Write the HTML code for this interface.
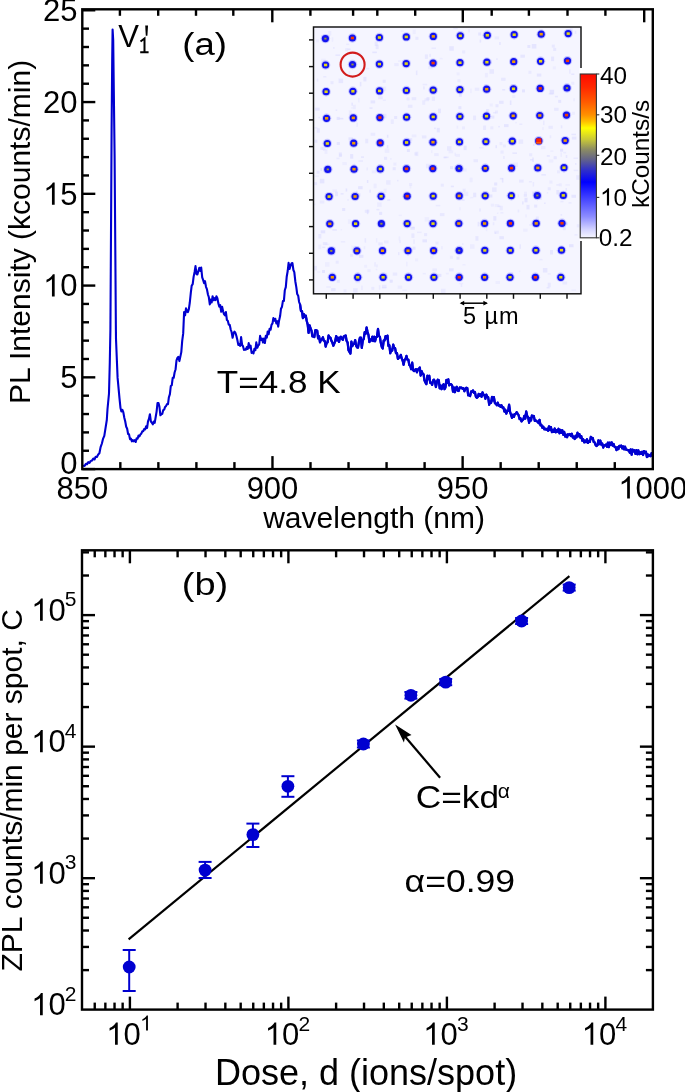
<!DOCTYPE html>
<html><head><meta charset="utf-8"><style>
html,body{margin:0;padding:0;background:#fff;width:685px;height:1092px;overflow:hidden}
svg{display:block;will-change:transform}
text{font-family:"Liberation Sans", sans-serif}
</style></head><body>
<svg width="685" height="1092" viewBox="0 0 685 1092">
<defs><radialGradient id="gy" cx="0.5" cy="0.5" r="0.5"><stop offset="0" stop-color="#e8e000"/><stop offset="0.32" stop-color="#e8e000"/><stop offset="0.5" stop-color="#1414f0"/><stop offset="0.78" stop-color="#2a2af2" stop-opacity="0.9"/><stop offset="1" stop-color="#8080ff" stop-opacity="0"/></radialGradient><radialGradient id="go" cx="0.5" cy="0.5" r="0.5"><stop offset="0" stop-color="#ff9a00"/><stop offset="0.32" stop-color="#ff9a00"/><stop offset="0.5" stop-color="#1414f0"/><stop offset="0.78" stop-color="#2a2af2" stop-opacity="0.9"/><stop offset="1" stop-color="#8080ff" stop-opacity="0"/></radialGradient><radialGradient id="gr" cx="0.5" cy="0.5" r="0.5"><stop offset="0" stop-color="#ff2a00"/><stop offset="0.32" stop-color="#ff2a00"/><stop offset="0.5" stop-color="#1414f0"/><stop offset="0.78" stop-color="#2a2af2" stop-opacity="0.9"/><stop offset="1" stop-color="#8080ff" stop-opacity="0"/></radialGradient><radialGradient id="gb" cx="0.5" cy="0.5" r="0.5"><stop offset="0" stop-color="#6a6a90"/><stop offset="0.32" stop-color="#6a6a90"/><stop offset="0.5" stop-color="#1414f0"/><stop offset="0.78" stop-color="#2a2af2" stop-opacity="0.9"/><stop offset="1" stop-color="#8080ff" stop-opacity="0"/></radialGradient><linearGradient id="cb" x1="0" y1="0" x2="0" y2="1"><stop offset="0" stop-color="#ff0a00"/><stop offset="0.08" stop-color="#ff2800"/><stop offset="0.17" stop-color="#ff5a00"/><stop offset="0.25" stop-color="#ff9000"/><stop offset="0.29" stop-color="#ffc000"/><stop offset="0.33" stop-color="#ffff00"/><stop offset="0.40" stop-color="#c8c838"/><stop offset="0.46" stop-color="#8c8c62"/><stop offset="0.52" stop-color="#646488"/><stop offset="0.58" stop-color="#3434c4"/><stop offset="0.66" stop-color="#0000ff"/><stop offset="0.77" stop-color="#4a4aff"/><stop offset="0.87" stop-color="#8c8cff"/><stop offset="0.95" stop-color="#d4d4ff"/><stop offset="1" stop-color="#f6f6ff"/></linearGradient></defs>
<rect width="685" height="1092" fill="#fff"/>
<!-- inset -->
<rect x="313.5" y="27.0" width="267.5" height="266.8" fill="#f5f5ff"/><rect x="477.6" y="221.9" width="1.5" height="4.5" fill="#d8d8ff" fill-opacity="0.52"/><rect x="379.1" y="40.6" width="3" height="1.5" fill="#d8d8ff" fill-opacity="0.38"/><rect x="542.3" y="127.1" width="1.5" height="3" fill="#d8d8ff" fill-opacity="0.25"/><rect x="370.6" y="100.4" width="4.5" height="3" fill="#d8d8ff" fill-opacity="0.52"/><rect x="332.5" y="189.4" width="4.5" height="3" fill="#d8d8ff" fill-opacity="0.30"/><rect x="569.7" y="28.4" width="3" height="3" fill="#d8d8ff" fill-opacity="0.56"/><rect x="389.7" y="279.7" width="3" height="3" fill="#d8d8ff" fill-opacity="0.58"/><rect x="495.5" y="281.0" width="4.5" height="3" fill="#d8d8ff" fill-opacity="0.26"/><rect x="422.8" y="272.9" width="3" height="1.5" fill="#d8d8ff" fill-opacity="0.37"/><rect x="528.9" y="181.0" width="3" height="1.5" fill="#d8d8ff" fill-opacity="0.36"/><rect x="529.2" y="153.3" width="3" height="3" fill="#d8d8ff" fill-opacity="0.42"/><rect x="499.2" y="42.0" width="1.5" height="3" fill="#d8d8ff" fill-opacity="0.55"/><rect x="318.3" y="234.0" width="3" height="4.5" fill="#d8d8ff" fill-opacity="0.45"/><rect x="315.9" y="39.3" width="3" height="3" fill="#d8d8ff" fill-opacity="0.29"/><rect x="378.3" y="242.4" width="4.5" height="3" fill="#d8d8ff" fill-opacity="0.43"/><rect x="548.7" y="92.9" width="4.5" height="1.5" fill="#d8d8ff" fill-opacity="0.46"/><rect x="519.3" y="123.5" width="3" height="1.5" fill="#d8d8ff" fill-opacity="0.40"/><rect x="571.3" y="81.8" width="3" height="3" fill="#d8d8ff" fill-opacity="0.37"/><rect x="557.0" y="170.3" width="3" height="3" fill="#d8d8ff" fill-opacity="0.36"/><rect x="524.0" y="191.7" width="3" height="4.5" fill="#d8d8ff" fill-opacity="0.31"/><rect x="326.3" y="286.3" width="4.5" height="1.5" fill="#d8d8ff" fill-opacity="0.33"/><rect x="470.0" y="244.2" width="4.5" height="4.5" fill="#d8d8ff" fill-opacity="0.30"/><rect x="571.5" y="194.8" width="4.5" height="3" fill="#d8d8ff" fill-opacity="0.54"/><rect x="347.9" y="219.3" width="3" height="4.5" fill="#d8d8ff" fill-opacity="0.29"/><rect x="428.0" y="66.2" width="4.5" height="3" fill="#d8d8ff" fill-opacity="0.30"/><rect x="556.4" y="190.0" width="3" height="4.5" fill="#d8d8ff" fill-opacity="0.59"/><rect x="495.0" y="110.5" width="3" height="3" fill="#d8d8ff" fill-opacity="0.41"/><rect x="551.1" y="56.6" width="3" height="4.5" fill="#d8d8ff" fill-opacity="0.55"/><rect x="361.0" y="156.3" width="3" height="1.5" fill="#d8d8ff" fill-opacity="0.53"/><rect x="517.7" y="209.5" width="1.5" height="3" fill="#d8d8ff" fill-opacity="0.38"/><rect x="499.1" y="100.8" width="4.5" height="3" fill="#d8d8ff" fill-opacity="0.52"/><rect x="495.5" y="104.2" width="3" height="3" fill="#d8d8ff" fill-opacity="0.45"/><rect x="316.6" y="170.7" width="3" height="3" fill="#d8d8ff" fill-opacity="0.49"/><rect x="435.5" y="241.6" width="3" height="3" fill="#d8d8ff" fill-opacity="0.35"/><rect x="404.6" y="273.4" width="4.5" height="3" fill="#d8d8ff" fill-opacity="0.57"/><rect x="358.9" y="254.8" width="4.5" height="3" fill="#d8d8ff" fill-opacity="0.58"/><rect x="450.0" y="166.1" width="3" height="3" fill="#d8d8ff" fill-opacity="0.54"/><rect x="560.5" y="152.4" width="1.5" height="4.5" fill="#d8d8ff" fill-opacity="0.31"/><rect x="519.1" y="179.6" width="4.5" height="3" fill="#d8d8ff" fill-opacity="0.47"/><rect x="517.6" y="194.4" width="1.5" height="3" fill="#d8d8ff" fill-opacity="0.31"/><rect x="429.7" y="197.9" width="3" height="3" fill="#d8d8ff" fill-opacity="0.47"/><rect x="324.5" y="150.9" width="3" height="3" fill="#d8d8ff" fill-opacity="0.27"/><rect x="348.7" y="110.4" width="3" height="4.5" fill="#d8d8ff" fill-opacity="0.32"/><rect x="322.9" y="149.3" width="4.5" height="1.5" fill="#d8d8ff" fill-opacity="0.46"/><rect x="376.2" y="264.4" width="1.5" height="3" fill="#d8d8ff" fill-opacity="0.39"/><rect x="386.9" y="134.8" width="1.5" height="3" fill="#d8d8ff" fill-opacity="0.59"/><rect x="458.4" y="106.2" width="3" height="3" fill="#d8d8ff" fill-opacity="0.58"/><rect x="390.8" y="119.4" width="3" height="4.5" fill="#d8d8ff" fill-opacity="0.39"/><rect x="462.1" y="168.5" width="4.5" height="3" fill="#d8d8ff" fill-opacity="0.30"/><rect x="414.4" y="152.4" width="3" height="3" fill="#d8d8ff" fill-opacity="0.46"/><rect x="406.0" y="261.8" width="1.5" height="4.5" fill="#d8d8ff" fill-opacity="0.29"/><rect x="462.6" y="188.7" width="3" height="3" fill="#d8d8ff" fill-opacity="0.47"/><rect x="548.4" y="125.8" width="4.5" height="3" fill="#d8d8ff" fill-opacity="0.42"/><rect x="439.9" y="213.1" width="4.5" height="3" fill="#d8d8ff" fill-opacity="0.46"/><rect x="382.0" y="284.8" width="4.5" height="3" fill="#d8d8ff" fill-opacity="0.40"/><rect x="397.6" y="285.7" width="4.5" height="3" fill="#d8d8ff" fill-opacity="0.30"/><rect x="319.8" y="200.5" width="4.5" height="3" fill="#d8d8ff" fill-opacity="0.35"/><rect x="519.5" y="244.3" width="1.5" height="4.5" fill="#d8d8ff" fill-opacity="0.44"/><rect x="385.6" y="272.8" width="1.5" height="3" fill="#d8d8ff" fill-opacity="0.42"/><rect x="535.9" y="216.6" width="3" height="3" fill="#d8d8ff" fill-opacity="0.42"/><rect x="575.0" y="163.2" width="1.5" height="1.5" fill="#d8d8ff" fill-opacity="0.52"/><rect x="392.7" y="167.2" width="3" height="3" fill="#d8d8ff" fill-opacity="0.51"/><rect x="320.5" y="118.9" width="3" height="1.5" fill="#d8d8ff" fill-opacity="0.25"/><rect x="459.3" y="207.2" width="1.5" height="3" fill="#d8d8ff" fill-opacity="0.26"/><rect x="518.6" y="139.4" width="4.5" height="4.5" fill="#d8d8ff" fill-opacity="0.42"/><rect x="493.3" y="216.1" width="3" height="4.5" fill="#d8d8ff" fill-opacity="0.54"/><rect x="330.9" y="246.8" width="4.5" height="3" fill="#d8d8ff" fill-opacity="0.48"/><rect x="438.0" y="108.7" width="3" height="4.5" fill="#d8d8ff" fill-opacity="0.49"/><rect x="547.7" y="282.7" width="3" height="4.5" fill="#d8d8ff" fill-opacity="0.46"/><rect x="527.4" y="45.0" width="3" height="3" fill="#d8d8ff" fill-opacity="0.54"/><rect x="522.1" y="201.4" width="1.5" height="3" fill="#d8d8ff" fill-opacity="0.50"/><rect x="571.4" y="289.4" width="4.5" height="1.5" fill="#d8d8ff" fill-opacity="0.29"/><rect x="345.7" y="188.5" width="1.5" height="3" fill="#d8d8ff" fill-opacity="0.60"/><rect x="499.5" y="142.1" width="3" height="3" fill="#d8d8ff" fill-opacity="0.39"/><rect x="356.0" y="190.6" width="1.5" height="1.5" fill="#d8d8ff" fill-opacity="0.48"/><rect x="509.9" y="100.5" width="1.5" height="4.5" fill="#d8d8ff" fill-opacity="0.56"/><rect x="348.9" y="140.4" width="3" height="4.5" fill="#d8d8ff" fill-opacity="0.42"/><rect x="560.8" y="125.3" width="1.5" height="3" fill="#d8d8ff" fill-opacity="0.49"/><rect x="353.3" y="192.9" width="3" height="3" fill="#d8d8ff" fill-opacity="0.34"/><rect x="458.9" y="93.8" width="3" height="3" fill="#d8d8ff" fill-opacity="0.53"/><rect x="541.0" y="146.1" width="4.5" height="3" fill="#d8d8ff" fill-opacity="0.30"/><rect x="318.4" y="116.8" width="1.5" height="1.5" fill="#d8d8ff" fill-opacity="0.55"/><rect x="447.0" y="146.2" width="4.5" height="4.5" fill="#d8d8ff" fill-opacity="0.42"/><rect x="398.7" y="236.3" width="1.5" height="4.5" fill="#d8d8ff" fill-opacity="0.27"/><rect x="353.2" y="277.2" width="3" height="1.5" fill="#d8d8ff" fill-opacity="0.28"/><rect x="553.7" y="156.2" width="3" height="3" fill="#d8d8ff" fill-opacity="0.50"/><rect x="412.5" y="246.7" width="3" height="3" fill="#d8d8ff" fill-opacity="0.58"/><rect x="499.4" y="236.2" width="4.5" height="3" fill="#d8d8ff" fill-opacity="0.50"/><rect x="407.9" y="104.8" width="4.5" height="3" fill="#d8d8ff" fill-opacity="0.43"/><rect x="469.7" y="177.7" width="3" height="4.5" fill="#d8d8ff" fill-opacity="0.27"/><rect x="323.3" y="76.0" width="3" height="1.5" fill="#d8d8ff" fill-opacity="0.42"/><rect x="560.4" y="200.8" width="3" height="1.5" fill="#d8d8ff" fill-opacity="0.40"/><rect x="392.7" y="272.6" width="4.5" height="3" fill="#d8d8ff" fill-opacity="0.41"/><rect x="339.8" y="67.6" width="3" height="1.5" fill="#d8d8ff" fill-opacity="0.38"/><rect x="415.1" y="258.4" width="3" height="3" fill="#d8d8ff" fill-opacity="0.29"/><rect x="529.2" y="224.2" width="3" height="1.5" fill="#d8d8ff" fill-opacity="0.42"/><rect x="322.0" y="270.0" width="3" height="3" fill="#d8d8ff" fill-opacity="0.58"/><rect x="494.7" y="204.1" width="4.5" height="3" fill="#d8d8ff" fill-opacity="0.29"/><rect x="489.7" y="103.5" width="3" height="3" fill="#d8d8ff" fill-opacity="0.26"/><rect x="501.9" y="178.0" width="1.5" height="4.5" fill="#d8d8ff" fill-opacity="0.57"/><rect x="499.7" y="205.8" width="3" height="4.5" fill="#d8d8ff" fill-opacity="0.38"/><rect x="331.1" y="288.1" width="4.5" height="3" fill="#d8d8ff" fill-opacity="0.52"/><rect x="359.8" y="81.9" width="1.5" height="4.5" fill="#d8d8ff" fill-opacity="0.50"/><rect x="384.8" y="148.4" width="4.5" height="4.5" fill="#d8d8ff" fill-opacity="0.31"/><rect x="322.3" y="246.6" width="3" height="1.5" fill="#d8d8ff" fill-opacity="0.50"/><rect x="375.9" y="238.1" width="1.5" height="4.5" fill="#d8d8ff" fill-opacity="0.27"/><rect x="377.7" y="40.3" width="4.5" height="1.5" fill="#d8d8ff" fill-opacity="0.27"/><rect x="533.1" y="144.2" width="1.5" height="1.5" fill="#d8d8ff" fill-opacity="0.58"/><rect x="364.8" y="209.8" width="4.5" height="3" fill="#d8d8ff" fill-opacity="0.44"/><rect x="335.7" y="109.5" width="1.5" height="1.5" fill="#d8d8ff" fill-opacity="0.44"/><rect x="556.3" y="184.2" width="3" height="1.5" fill="#d8d8ff" fill-opacity="0.40"/><rect x="407.7" y="138.2" width="4.5" height="3" fill="#d8d8ff" fill-opacity="0.50"/><rect x="554.1" y="107.8" width="4.5" height="3" fill="#d8d8ff" fill-opacity="0.44"/><rect x="350.1" y="154.0" width="3" height="4.5" fill="#d8d8ff" fill-opacity="0.36"/><rect x="347.7" y="48.5" width="3" height="1.5" fill="#d8d8ff" fill-opacity="0.53"/><rect x="568.5" y="202.1" width="3" height="1.5" fill="#d8d8ff" fill-opacity="0.42"/><rect x="379.1" y="211.9" width="3" height="3" fill="#d8d8ff" fill-opacity="0.56"/><rect x="332.4" y="229.2" width="4.5" height="1.5" fill="#d8d8ff" fill-opacity="0.56"/><rect x="485.9" y="226.7" width="1.5" height="4.5" fill="#d8d8ff" fill-opacity="0.30"/><rect x="494.7" y="232.3" width="1.5" height="1.5" fill="#d8d8ff" fill-opacity="0.50"/><rect x="384.0" y="240.4" width="4.5" height="3" fill="#d8d8ff" fill-opacity="0.36"/><rect x="394.2" y="63.1" width="4.5" height="3" fill="#d8d8ff" fill-opacity="0.35"/><rect x="330.2" y="227.7" width="1.5" height="1.5" fill="#d8d8ff" fill-opacity="0.29"/><rect x="569.0" y="244.2" width="4.5" height="3" fill="#d8d8ff" fill-opacity="0.58"/><rect x="474.8" y="87.7" width="4.5" height="3" fill="#d8d8ff" fill-opacity="0.38"/><rect x="400.6" y="30.3" width="3" height="1.5" fill="#d8d8ff" fill-opacity="0.34"/><rect x="473.2" y="192.7" width="3" height="4.5" fill="#d8d8ff" fill-opacity="0.52"/><rect x="428.0" y="139.9" width="3" height="3" fill="#d8d8ff" fill-opacity="0.41"/><rect x="373.7" y="183.7" width="3" height="4.5" fill="#d8d8ff" fill-opacity="0.27"/><rect x="489.5" y="69.2" width="4.5" height="4.5" fill="#d8d8ff" fill-opacity="0.46"/><rect x="340.8" y="241.0" width="4.5" height="1.5" fill="#d8d8ff" fill-opacity="0.32"/><rect x="313.8" y="265.9" width="3" height="4.5" fill="#d8d8ff" fill-opacity="0.50"/><rect x="406.9" y="149.0" width="3" height="3" fill="#d8d8ff" fill-opacity="0.54"/><rect x="393.4" y="162.6" width="3" height="3" fill="#d8d8ff" fill-opacity="0.37"/><rect x="378.9" y="285.2" width="1.5" height="4.5" fill="#d8d8ff" fill-opacity="0.39"/><rect x="351.2" y="245.6" width="4.5" height="4.5" fill="#d8d8ff" fill-opacity="0.26"/><rect x="358.2" y="52.9" width="3" height="3" fill="#d8d8ff" fill-opacity="0.53"/><rect x="512.5" y="152.4" width="4.5" height="1.5" fill="#d8d8ff" fill-opacity="0.53"/><rect x="412.7" y="29.6" width="3" height="4.5" fill="#d8d8ff" fill-opacity="0.26"/><rect x="492.1" y="187.4" width="4.5" height="4.5" fill="#d8d8ff" fill-opacity="0.44"/><rect x="495.5" y="145.2" width="1.5" height="3" fill="#d8d8ff" fill-opacity="0.53"/><rect x="409.1" y="183.0" width="3" height="3" fill="#d8d8ff" fill-opacity="0.35"/><rect x="320.7" y="230.3" width="4.5" height="3" fill="#d8d8ff" fill-opacity="0.59"/><rect x="317.3" y="271.2" width="3" height="1.5" fill="#d8d8ff" fill-opacity="0.26"/><rect x="336.8" y="279.8" width="3" height="3" fill="#d8d8ff" fill-opacity="0.49"/><rect x="534.4" y="221.1" width="3" height="4.5" fill="#d8d8ff" fill-opacity="0.43"/><rect x="549.6" y="89.8" width="4.5" height="4.5" fill="#d8d8ff" fill-opacity="0.59"/><rect x="490.3" y="126.3" width="3" height="3" fill="#d8d8ff" fill-opacity="0.39"/><rect x="342.2" y="208.0" width="3" height="3" fill="#d8d8ff" fill-opacity="0.56"/><rect x="369.5" y="107.3" width="3" height="1.5" fill="#d8d8ff" fill-opacity="0.56"/><rect x="357.6" y="193.3" width="3" height="3" fill="#d8d8ff" fill-opacity="0.48"/><rect x="463.7" y="191.6" width="4.5" height="4.5" fill="#d8d8ff" fill-opacity="0.33"/><rect x="440.8" y="183.7" width="3" height="3" fill="#d8d8ff" fill-opacity="0.40"/><rect x="335.7" y="260.7" width="3" height="3" fill="#d8d8ff" fill-opacity="0.40"/><rect x="352.8" y="104.7" width="3" height="4.5" fill="#d8d8ff" fill-opacity="0.32"/><rect x="470.2" y="196.9" width="3" height="1.5" fill="#d8d8ff" fill-opacity="0.27"/><rect x="441.2" y="246.3" width="1.5" height="3" fill="#d8d8ff" fill-opacity="0.32"/><rect x="436.8" y="127.9" width="3" height="4.5" fill="#d8d8ff" fill-opacity="0.54"/><rect x="313.9" y="203.7" width="1.5" height="1.5" fill="#d8d8ff" fill-opacity="0.37"/><rect x="410.4" y="226.8" width="4.5" height="3" fill="#d8d8ff" fill-opacity="0.54"/><rect x="525.3" y="214.4" width="1.5" height="3" fill="#d8d8ff" fill-opacity="0.29"/><rect x="330.5" y="81.2" width="3" height="3" fill="#d8d8ff" fill-opacity="0.41"/><rect x="492.8" y="222.2" width="1.5" height="3" fill="#d8d8ff" fill-opacity="0.39"/><rect x="456.7" y="125.6" width="1.5" height="3" fill="#d8d8ff" fill-opacity="0.30"/><rect x="314.4" y="127.1" width="3" height="1.5" fill="#d8d8ff" fill-opacity="0.42"/><rect x="560.6" y="214.2" width="1.5" height="1.5" fill="#d8d8ff" fill-opacity="0.53"/><rect x="576.8" y="224.3" width="3" height="3" fill="#d8d8ff" fill-opacity="0.38"/><rect x="390.1" y="158.1" width="1.5" height="1.5" fill="#d8d8ff" fill-opacity="0.35"/><rect x="402.3" y="249.9" width="4.5" height="1.5" fill="#d8d8ff" fill-opacity="0.33"/><rect x="573.3" y="98.2" width="1.5" height="3" fill="#d8d8ff" fill-opacity="0.34"/><rect x="338.8" y="152.5" width="3" height="4.5" fill="#d8d8ff" fill-opacity="0.55"/><rect x="378.1" y="145.9" width="3" height="1.5" fill="#d8d8ff" fill-opacity="0.25"/><rect x="515.3" y="121.9" width="1.5" height="1.5" fill="#d8d8ff" fill-opacity="0.34"/><rect x="434.2" y="127.6" width="1.5" height="1.5" fill="#d8d8ff" fill-opacity="0.59"/><rect x="364.6" y="238.2" width="1.5" height="4.5" fill="#d8d8ff" fill-opacity="0.43"/><rect x="565.4" y="184.2" width="4.5" height="1.5" fill="#d8d8ff" fill-opacity="0.27"/><rect x="417.0" y="231.6" width="4.5" height="1.5" fill="#d8d8ff" fill-opacity="0.33"/><rect x="424.6" y="217.1" width="4.5" height="4.5" fill="#d8d8ff" fill-opacity="0.26"/><rect x="528.4" y="70.8" width="3" height="3" fill="#d8d8ff" fill-opacity="0.36"/><rect x="363.8" y="246.2" width="1.5" height="3" fill="#d8d8ff" fill-opacity="0.33"/><rect x="424.5" y="98.2" width="4.5" height="3" fill="#d8d8ff" fill-opacity="0.35"/><rect x="489.1" y="59.4" width="3" height="4.5" fill="#d8d8ff" fill-opacity="0.28"/><rect x="494.6" y="36.4" width="4.5" height="3" fill="#d8d8ff" fill-opacity="0.32"/><rect x="318.4" y="244.7" width="3" height="4.5" fill="#d8d8ff" fill-opacity="0.30"/><rect x="375.8" y="268.8" width="1.5" height="1.5" fill="#d8d8ff" fill-opacity="0.31"/><rect x="426.5" y="97.1" width="3" height="3" fill="#d8d8ff" fill-opacity="0.52"/><rect x="353.5" y="163.2" width="1.5" height="3" fill="#d8d8ff" fill-opacity="0.29"/><rect x="483.1" y="125.5" width="3" height="4.5" fill="#d8d8ff" fill-opacity="0.44"/><rect x="430.3" y="255.8" width="3" height="3" fill="#d8d8ff" fill-opacity="0.26"/><rect x="316.8" y="128.2" width="3" height="4.5" fill="#d8d8ff" fill-opacity="0.48"/><rect x="328.2" y="31.0" width="3" height="4.5" fill="#d8d8ff" fill-opacity="0.33"/><rect x="502.2" y="89.0" width="3" height="1.5" fill="#d8d8ff" fill-opacity="0.53"/><rect x="376.4" y="208.9" width="3" height="1.5" fill="#d8d8ff" fill-opacity="0.45"/><rect x="429.3" y="53.9" width="1.5" height="3" fill="#d8d8ff" fill-opacity="0.45"/><rect x="386.1" y="180.2" width="4.5" height="4.5" fill="#d8d8ff" fill-opacity="0.36"/><rect x="357.4" y="271.9" width="1.5" height="4.5" fill="#d8d8ff" fill-opacity="0.27"/><rect x="369.4" y="189.7" width="1.5" height="3" fill="#d8d8ff" fill-opacity="0.54"/><rect x="411.8" y="134.4" width="4.5" height="3" fill="#d8d8ff" fill-opacity="0.27"/><rect x="314.5" y="175.4" width="4.5" height="1.5" fill="#d8d8ff" fill-opacity="0.27"/><rect x="336.7" y="116.9" width="3" height="3" fill="#d8d8ff" fill-opacity="0.59"/><rect x="382.9" y="99.5" width="3" height="1.5" fill="#d8d8ff" fill-opacity="0.34"/><rect x="532.0" y="191.4" width="4.5" height="3" fill="#d8d8ff" fill-opacity="0.47"/><rect x="378.2" y="96.2" width="4.5" height="3" fill="#d8d8ff" fill-opacity="0.46"/><rect x="462.5" y="264.0" width="3" height="1.5" fill="#d8d8ff" fill-opacity="0.25"/><rect x="324.9" y="243.6" width="4.5" height="1.5" fill="#d8d8ff" fill-opacity="0.26"/><rect x="421.9" y="135.4" width="4.5" height="3" fill="#d8d8ff" fill-opacity="0.44"/><rect x="496.9" y="212.5" width="1.5" height="1.5" fill="#d8d8ff" fill-opacity="0.27"/><rect x="434.8" y="197.5" width="1.5" height="3" fill="#d8d8ff" fill-opacity="0.29"/><rect x="512.3" y="95.0" width="3" height="3" fill="#d8d8ff" fill-opacity="0.25"/><rect x="513.3" y="162.5" width="4.5" height="4.5" fill="#d8d8ff" fill-opacity="0.38"/><rect x="486.4" y="274.9" width="3" height="3" fill="#d8d8ff" fill-opacity="0.41"/><rect x="353.1" y="288.2" width="4.5" height="4.5" fill="#d8d8ff" fill-opacity="0.47"/><rect x="484.9" y="72.9" width="3" height="4.5" fill="#d8d8ff" fill-opacity="0.31"/><rect x="445.8" y="272.8" width="3" height="1.5" fill="#d8d8ff" fill-opacity="0.30"/><rect x="384.1" y="156.8" width="3" height="3" fill="#d8d8ff" fill-opacity="0.48"/><rect x="424.1" y="233.1" width="3" height="3" fill="#d8d8ff" fill-opacity="0.47"/><rect x="365.2" y="138.8" width="3" height="4.5" fill="#d8d8ff" fill-opacity="0.47"/><rect x="482.3" y="278.3" width="1.5" height="1.5" fill="#d8d8ff" fill-opacity="0.37"/><rect x="340.6" y="193.1" width="3" height="1.5" fill="#d8d8ff" fill-opacity="0.52"/><rect x="456.6" y="72.3" width="3" height="3" fill="#d8d8ff" fill-opacity="0.28"/><rect x="539.5" y="258.9" width="3" height="1.5" fill="#d8d8ff" fill-opacity="0.35"/><rect x="402.3" y="289.5" width="4.5" height="1.5" fill="#d8d8ff" fill-opacity="0.27"/><rect x="331.7" y="37.3" width="1.5" height="4.5" fill="#d8d8ff" fill-opacity="0.29"/><rect x="423.2" y="86.4" width="1.5" height="3" fill="#d8d8ff" fill-opacity="0.48"/><rect x="493.1" y="112.0" width="3" height="1.5" fill="#d8d8ff" fill-opacity="0.41"/><rect x="340.6" y="229.0" width="1.5" height="1.5" fill="#d8d8ff" fill-opacity="0.28"/><rect x="573.6" y="169.6" width="4.5" height="1.5" fill="#d8d8ff" fill-opacity="0.35"/><rect x="458.7" y="282.7" width="4.5" height="1.5" fill="#d8d8ff" fill-opacity="0.32"/><rect x="449.1" y="268.3" width="4.5" height="3" fill="#d8d8ff" fill-opacity="0.57"/><rect x="399.3" y="240.1" width="1.5" height="3" fill="#d8d8ff" fill-opacity="0.36"/><rect x="539.1" y="195.5" width="3" height="4.5" fill="#d8d8ff" fill-opacity="0.44"/><rect x="523.8" y="194.0" width="3" height="3" fill="#d8d8ff" fill-opacity="0.31"/><rect x="479.1" y="147.0" width="4.5" height="1.5" fill="#d8d8ff" fill-opacity="0.30"/><rect x="366.9" y="209.6" width="1.5" height="4.5" fill="#d8d8ff" fill-opacity="0.60"/><rect x="348.6" y="71.1" width="1.5" height="4.5" fill="#d8d8ff" fill-opacity="0.34"/><rect x="435.8" y="204.9" width="4.5" height="1.5" fill="#d8d8ff" fill-opacity="0.35"/><rect x="546.7" y="192.0" width="1.5" height="1.5" fill="#d8d8ff" fill-opacity="0.32"/><rect x="319.8" y="178.8" width="4.5" height="4.5" fill="#d8d8ff" fill-opacity="0.56"/><rect x="450.9" y="185.7" width="3" height="1.5" fill="#d8d8ff" fill-opacity="0.56"/><rect x="348.5" y="137.4" width="4.5" height="3" fill="#d8d8ff" fill-opacity="0.59"/><rect x="347.3" y="199.2" width="1.5" height="1.5" fill="#d8d8ff" fill-opacity="0.42"/><rect x="355.6" y="280.2" width="4.5" height="3" fill="#d8d8ff" fill-opacity="0.40"/><rect x="534.2" y="204.6" width="3" height="3" fill="#d8d8ff" fill-opacity="0.50"/><rect x="475.4" y="236.2" width="3" height="4.5" fill="#d8d8ff" fill-opacity="0.48"/><rect x="455.5" y="153.9" width="4.5" height="3" fill="#d8d8ff" fill-opacity="0.27"/><rect x="454.5" y="152.8" width="1.5" height="3" fill="#d8d8ff" fill-opacity="0.31"/><rect x="358.5" y="160.3" width="4.5" height="1.5" fill="#d8d8ff" fill-opacity="0.38"/><rect x="483.4" y="87.2" width="3" height="1.5" fill="#d8d8ff" fill-opacity="0.32"/><rect x="375.7" y="44.6" width="3" height="4.5" fill="#d8d8ff" fill-opacity="0.45"/><rect x="372.3" y="51.6" width="4.5" height="1.5" fill="#d8d8ff" fill-opacity="0.56"/><rect x="453.3" y="27.7" width="4.5" height="1.5" fill="#d8d8ff" fill-opacity="0.41"/><rect x="363.4" y="76.9" width="3" height="4.5" fill="#d8d8ff" fill-opacity="0.56"/><rect x="550.3" y="150.4" width="3" height="1.5" fill="#d8d8ff" fill-opacity="0.26"/><rect x="523.1" y="228.7" width="4.5" height="3" fill="#d8d8ff" fill-opacity="0.26"/><rect x="546.6" y="287.0" width="3" height="1.5" fill="#d8d8ff" fill-opacity="0.49"/><rect x="366.5" y="167.4" width="1.5" height="3" fill="#d8d8ff" fill-opacity="0.33"/><rect x="314.4" y="139.7" width="3" height="3" fill="#d8d8ff" fill-opacity="0.51"/><rect x="415.9" y="70.6" width="1.5" height="4.5" fill="#d8d8ff" fill-opacity="0.49"/><rect x="370.7" y="132.8" width="4.5" height="3" fill="#d8d8ff" fill-opacity="0.39"/><rect x="320.4" y="146.8" width="3" height="3" fill="#d8d8ff" fill-opacity="0.52"/><rect x="542.9" y="268.0" width="4.5" height="4.5" fill="#d8d8ff" fill-opacity="0.51"/><rect x="366.9" y="180.0" width="1.5" height="3" fill="#d8d8ff" fill-opacity="0.54"/><rect x="569.1" y="69.3" width="1.5" height="4.5" fill="#d8d8ff" fill-opacity="0.38"/><rect x="351.4" y="102.7" width="1.5" height="3" fill="#d8d8ff" fill-opacity="0.50"/><rect x="563.3" y="222.2" width="4.5" height="3" fill="#d8d8ff" fill-opacity="0.50"/><rect x="546.8" y="155.2" width="3" height="1.5" fill="#d8d8ff" fill-opacity="0.60"/><rect x="504.0" y="124.1" width="4.5" height="3" fill="#d8d8ff" fill-opacity="0.53"/><rect x="432.4" y="268.4" width="4.5" height="3" fill="#d8d8ff" fill-opacity="0.39"/><rect x="460.7" y="284.0" width="1.5" height="3" fill="#d8d8ff" fill-opacity="0.42"/><rect x="342.3" y="162.1" width="4.5" height="3" fill="#d8d8ff" fill-opacity="0.28"/><rect x="486.1" y="109.5" width="1.5" height="3" fill="#d8d8ff" fill-opacity="0.39"/><rect x="398.0" y="252.1" width="1.5" height="3" fill="#d8d8ff" fill-opacity="0.47"/><rect x="518.9" y="270.6" width="1.5" height="1.5" fill="#d8d8ff" fill-opacity="0.26"/><rect x="448.7" y="150.4" width="4.5" height="3" fill="#d8d8ff" fill-opacity="0.30"/><rect x="386.8" y="145.1" width="1.5" height="3" fill="#d8d8ff" fill-opacity="0.56"/><rect x="532.6" y="182.0" width="1.5" height="4.5" fill="#d8d8ff" fill-opacity="0.35"/><rect x="338.8" y="117.9" width="4.5" height="1.5" fill="#d8d8ff" fill-opacity="0.60"/><rect x="543.0" y="120.6" width="1.5" height="4.5" fill="#d8d8ff" fill-opacity="0.36"/><rect x="532.3" y="157.5" width="1.5" height="4.5" fill="#d8d8ff" fill-opacity="0.50"/><rect x="558.8" y="183.3" width="3" height="3" fill="#d8d8ff" fill-opacity="0.34"/><rect x="530.1" y="159.0" width="3" height="1.5" fill="#d8d8ff" fill-opacity="0.55"/><rect x="463.6" y="145.6" width="3" height="4.5" fill="#d8d8ff" fill-opacity="0.58"/><rect x="346.2" y="43.6" width="3" height="1.5" fill="#d8d8ff" fill-opacity="0.36"/><rect x="409.7" y="185.5" width="1.5" height="3" fill="#d8d8ff" fill-opacity="0.25"/><rect x="351.2" y="107.2" width="1.5" height="1.5" fill="#d8d8ff" fill-opacity="0.27"/><rect x="335.0" y="191.7" width="3" height="4.5" fill="#d8d8ff" fill-opacity="0.48"/><rect x="322.5" y="147.0" width="3" height="3" fill="#d8d8ff" fill-opacity="0.43"/><rect x="576.2" y="175.2" width="4.5" height="4.5" fill="#d8d8ff" fill-opacity="0.47"/><rect x="536.8" y="73.6" width="4.5" height="3" fill="#d8d8ff" fill-opacity="0.55"/><rect x="336.8" y="142.0" width="3" height="3" fill="#d8d8ff" fill-opacity="0.57"/><rect x="403.1" y="191.9" width="1.5" height="4.5" fill="#d8d8ff" fill-opacity="0.39"/><rect x="431.9" y="96.5" width="3" height="4.5" fill="#d8d8ff" fill-opacity="0.38"/><rect x="361.2" y="285.6" width="1.5" height="4.5" fill="#d8d8ff" fill-opacity="0.36"/><rect x="364.8" y="67.9" width="4.5" height="1.5" fill="#d8d8ff" fill-opacity="0.35"/><rect x="322.9" y="242.1" width="4.5" height="3" fill="#d8d8ff" fill-opacity="0.49"/><rect x="544.1" y="202.5" width="1.5" height="1.5" fill="#d8d8ff" fill-opacity="0.52"/><rect x="394.2" y="116.0" width="3" height="3" fill="#d8d8ff" fill-opacity="0.55"/><rect x="316.8" y="78.6" width="1.5" height="3" fill="#d8d8ff" fill-opacity="0.42"/><rect x="367.5" y="269.1" width="3" height="3" fill="#d8d8ff" fill-opacity="0.33"/><rect x="433.7" y="35.5" width="1.5" height="3" fill="#d8d8ff" fill-opacity="0.29"/><rect x="496.2" y="58.4" width="1.5" height="1.5" fill="#d8d8ff" fill-opacity="0.52"/><rect x="549.4" y="180.6" width="3" height="3" fill="#d8d8ff" fill-opacity="0.34"/><rect x="358.1" y="97.9" width="1.5" height="4.5" fill="#d8d8ff" fill-opacity="0.31"/><rect x="503.2" y="156.0" width="1.5" height="3" fill="#d8d8ff" fill-opacity="0.41"/><rect x="374.7" y="41.5" width="3" height="4.5" fill="#d8d8ff" fill-opacity="0.48"/><rect x="339.1" y="154.3" width="3" height="1.5" fill="#d8d8ff" fill-opacity="0.41"/><rect x="345.2" y="48.2" width="3" height="3" fill="#d8d8ff" fill-opacity="0.38"/><rect x="565.7" y="155.0" width="1.5" height="3" fill="#d8d8ff" fill-opacity="0.43"/><rect x="406.6" y="97.4" width="3" height="3" fill="#d8d8ff" fill-opacity="0.41"/><rect x="494.2" y="182.5" width="3" height="3" fill="#d8d8ff" fill-opacity="0.57"/><rect x="462.2" y="50.4" width="3" height="3" fill="#d8d8ff" fill-opacity="0.38"/><rect x="483.9" y="84.2" width="3" height="3" fill="#d8d8ff" fill-opacity="0.52"/><rect x="358.1" y="186.2" width="4.5" height="3" fill="#d8d8ff" fill-opacity="0.56"/><rect x="479.3" y="208.5" width="1.5" height="3" fill="#d8d8ff" fill-opacity="0.46"/><rect x="524.5" y="197.8" width="3" height="4.5" fill="#d8d8ff" fill-opacity="0.58"/><rect x="574.8" y="30.8" width="1.5" height="3" fill="#d8d8ff" fill-opacity="0.46"/><rect x="486.2" y="109.0" width="3" height="4.5" fill="#d8d8ff" fill-opacity="0.55"/><rect x="473.1" y="115.6" width="3" height="4.5" fill="#d8d8ff" fill-opacity="0.44"/><rect x="479.8" y="221.9" width="1.5" height="4.5" fill="#d8d8ff" fill-opacity="0.31"/><rect x="457.4" y="79.2" width="3" height="3" fill="#d8d8ff" fill-opacity="0.39"/><rect x="553.2" y="47.9" width="3" height="3" fill="#d8d8ff" fill-opacity="0.49"/><rect x="478.2" y="32.5" width="3" height="3" fill="#d8d8ff" fill-opacity="0.53"/><rect x="413.3" y="239.4" width="1.5" height="4.5" fill="#d8d8ff" fill-opacity="0.39"/><rect x="571.5" y="133.7" width="4.5" height="1.5" fill="#d8d8ff" fill-opacity="0.52"/><rect x="565.5" y="188.0" width="1.5" height="3" fill="#d8d8ff" fill-opacity="0.43"/><rect x="488.0" y="114.0" width="3" height="3" fill="#d8d8ff" fill-opacity="0.40"/><rect x="526.5" y="204.9" width="3" height="4.5" fill="#d8d8ff" fill-opacity="0.50"/><rect x="500.4" y="212.1" width="3" height="1.5" fill="#d8d8ff" fill-opacity="0.35"/><rect x="571.9" y="136.6" width="4.5" height="3" fill="#d8d8ff" fill-opacity="0.52"/><rect x="436.9" y="273.9" width="4.5" height="3" fill="#d8d8ff" fill-opacity="0.60"/><rect x="398.8" y="214.6" width="3" height="1.5" fill="#d8d8ff" fill-opacity="0.29"/><rect x="431.0" y="150.1" width="1.5" height="3" fill="#d8d8ff" fill-opacity="0.25"/><rect x="497.4" y="205.6" width="3" height="1.5" fill="#d8d8ff" fill-opacity="0.53"/><rect x="531.8" y="44.0" width="4.5" height="4.5" fill="#d8d8ff" fill-opacity="0.57"/><rect x="562.8" y="225.7" width="3" height="4.5" fill="#d8d8ff" fill-opacity="0.44"/><rect x="489.4" y="194.5" width="3" height="3" fill="#d8d8ff" fill-opacity="0.59"/><rect x="443.5" y="156.7" width="3" height="1.5" fill="#d8d8ff" fill-opacity="0.52"/><rect x="468.3" y="29.3" width="1.5" height="3" fill="#d8d8ff" fill-opacity="0.32"/><rect x="558.2" y="99.9" width="3" height="3" fill="#d8d8ff" fill-opacity="0.53"/><rect x="377.1" y="202.4" width="4.5" height="4.5" fill="#d8d8ff" fill-opacity="0.33"/><rect x="422.7" y="83.8" width="4.5" height="1.5" fill="#d8d8ff" fill-opacity="0.36"/><rect x="522.0" y="89.4" width="3" height="3" fill="#d8d8ff" fill-opacity="0.58"/><rect x="406.9" y="92.7" width="3" height="1.5" fill="#d8d8ff" fill-opacity="0.47"/><rect x="439.6" y="57.9" width="3" height="1.5" fill="#d8d8ff" fill-opacity="0.30"/><rect x="520.4" y="54.7" width="4.5" height="3" fill="#d8d8ff" fill-opacity="0.52"/><rect x="456.5" y="256.6" width="3" height="3" fill="#d8d8ff" fill-opacity="0.58"/><rect x="325.0" y="262.3" width="4.5" height="4.5" fill="#d8d8ff" fill-opacity="0.25"/><rect x="381.9" y="286.9" width="4.5" height="1.5" fill="#d8d8ff" fill-opacity="0.53"/><rect x="315.2" y="107.7" width="4.5" height="3" fill="#d8d8ff" fill-opacity="0.57"/><rect x="552.8" y="66.3" width="3" height="3" fill="#d8d8ff" fill-opacity="0.28"/><rect x="425.9" y="163.8" width="4.5" height="4.5" fill="#d8d8ff" fill-opacity="0.36"/><rect x="563.2" y="151.9" width="3" height="1.5" fill="#d8d8ff" fill-opacity="0.34"/><rect x="424.9" y="54.4" width="3" height="4.5" fill="#d8d8ff" fill-opacity="0.43"/><rect x="490.9" y="203.6" width="3" height="3" fill="#d8d8ff" fill-opacity="0.30"/><rect x="321.3" y="58.8" width="4.5" height="4.5" fill="#d8d8ff" fill-opacity="0.25"/><rect x="491.3" y="115.6" width="3" height="3" fill="#d8d8ff" fill-opacity="0.57"/><rect x="381.7" y="86.6" width="4.5" height="4.5" fill="#d8d8ff" fill-opacity="0.34"/><rect x="383.7" y="188.6" width="3" height="4.5" fill="#d8d8ff" fill-opacity="0.27"/><rect x="547.7" y="273.1" width="3" height="1.5" fill="#d8d8ff" fill-opacity="0.33"/><rect x="449.9" y="255.8" width="3" height="3" fill="#d8d8ff" fill-opacity="0.37"/><rect x="494.3" y="230.7" width="4.5" height="3" fill="#d8d8ff" fill-opacity="0.33"/><rect x="562.6" y="281.5" width="4.5" height="3" fill="#d8d8ff" fill-opacity="0.41"/><rect x="356.4" y="122.4" width="1.5" height="4.5" fill="#d8d8ff" fill-opacity="0.35"/><rect x="571.9" y="111.8" width="3" height="3" fill="#d8d8ff" fill-opacity="0.28"/><rect x="387.2" y="199.3" width="3" height="1.5" fill="#d8d8ff" fill-opacity="0.51"/><rect x="411.4" y="233.4" width="3" height="4.5" fill="#d8d8ff" fill-opacity="0.43"/><rect x="411.7" y="97.2" width="4.5" height="3" fill="#d8d8ff" fill-opacity="0.46"/><rect x="511.6" y="272.1" width="1.5" height="3" fill="#d8d8ff" fill-opacity="0.56"/><rect x="338.6" y="78.6" width="4.5" height="4.5" fill="#d8d8ff" fill-opacity="0.49"/><rect x="343.5" y="289.3" width="3" height="3" fill="#d8d8ff" fill-opacity="0.39"/><rect x="462.0" y="126.4" width="3" height="3" fill="#d8d8ff" fill-opacity="0.37"/><rect x="422.2" y="100.3" width="3" height="4.5" fill="#d8d8ff" fill-opacity="0.36"/><rect x="374.3" y="262.1" width="1.5" height="4.5" fill="#d8d8ff" fill-opacity="0.36"/><rect x="336.5" y="157.7" width="3" height="1.5" fill="#d8d8ff" fill-opacity="0.36"/><rect x="473.5" y="159.2" width="4.5" height="3" fill="#d8d8ff" fill-opacity="0.42"/><rect x="563.0" y="142.3" width="3" height="1.5" fill="#d8d8ff" fill-opacity="0.53"/><rect x="501.1" y="77.8" width="4.5" height="3" fill="#d8d8ff" fill-opacity="0.43"/><rect x="499.9" y="177.9" width="3" height="1.5" fill="#d8d8ff" fill-opacity="0.55"/><rect x="541.4" y="174.1" width="4.5" height="1.5" fill="#d8d8ff" fill-opacity="0.50"/><rect x="371.3" y="286.9" width="3" height="3" fill="#d8d8ff" fill-opacity="0.35"/><rect x="547.7" y="187.3" width="3" height="3" fill="#d8d8ff" fill-opacity="0.46"/><rect x="441.0" y="288.8" width="4.5" height="4.5" fill="#d8d8ff" fill-opacity="0.36"/><rect x="383.4" y="113.8" width="3" height="4.5" fill="#d8d8ff" fill-opacity="0.41"/><rect x="461.6" y="199.3" width="3" height="1.5" fill="#d8d8ff" fill-opacity="0.53"/><rect x="335.5" y="54.4" width="4.5" height="1.5" fill="#d8d8ff" fill-opacity="0.55"/><rect x="573.5" y="157.5" width="4.5" height="1.5" fill="#d8d8ff" fill-opacity="0.41"/><rect x="411.4" y="226.8" width="3" height="1.5" fill="#d8d8ff" fill-opacity="0.55"/><rect x="574.5" y="234.1" width="3" height="1.5" fill="#d8d8ff" fill-opacity="0.42"/><rect x="551.8" y="44.6" width="3" height="3" fill="#d8d8ff" fill-opacity="0.47"/><rect x="470.2" y="88.6" width="1.5" height="4.5" fill="#d8d8ff" fill-opacity="0.29"/><rect x="431.5" y="47.5" width="4.5" height="1.5" fill="#d8d8ff" fill-opacity="0.35"/><rect x="314.1" y="182.1" width="3" height="3" fill="#d8d8ff" fill-opacity="0.45"/><rect x="548.7" y="159.5" width="4.5" height="3" fill="#d8d8ff" fill-opacity="0.29"/><rect x="350.3" y="154.3" width="3" height="4.5" fill="#d8d8ff" fill-opacity="0.26"/><rect x="350.1" y="253.8" width="3" height="3" fill="#d8d8ff" fill-opacity="0.49"/><rect x="415.4" y="36.8" width="3" height="3" fill="#d8d8ff" fill-opacity="0.46"/><rect x="434.2" y="153.1" width="4.5" height="3" fill="#d8d8ff" fill-opacity="0.36"/><rect x="406.0" y="224.4" width="4.5" height="1.5" fill="#d8d8ff" fill-opacity="0.56"/><rect x="320.4" y="168.0" width="1.5" height="3" fill="#d8d8ff" fill-opacity="0.48"/><rect x="502.9" y="144.4" width="3" height="3" fill="#d8d8ff" fill-opacity="0.36"/><rect x="549.7" y="135.2" width="1.5" height="3" fill="#d8d8ff" fill-opacity="0.35"/><rect x="333.1" y="47.2" width="1.5" height="1.5" fill="#d8d8ff" fill-opacity="0.49"/><rect x="449.3" y="46.2" width="4.5" height="4.5" fill="#d8d8ff" fill-opacity="0.51"/><rect x="404.6" y="90.7" width="3" height="3" fill="#d8d8ff" fill-opacity="0.59"/><rect x="364.1" y="264.8" width="3" height="3" fill="#d8d8ff" fill-opacity="0.26"/><rect x="422.5" y="239.3" width="4.5" height="3" fill="#d8d8ff" fill-opacity="0.56"/><rect x="398.1" y="60.3" width="3" height="1.5" fill="#d8d8ff" fill-opacity="0.32"/><rect x="479.6" y="39.6" width="1.5" height="3" fill="#d8d8ff" fill-opacity="0.52"/><rect x="444.1" y="156.6" width="4.5" height="1.5" fill="#d8d8ff" fill-opacity="0.49"/><rect x="397.0" y="179.9" width="1.5" height="1.5" fill="#d8d8ff" fill-opacity="0.47"/><rect x="462.0" y="243.3" width="1.5" height="1.5" fill="#d8d8ff" fill-opacity="0.42"/><rect x="550.0" y="250.0" width="3" height="4.5" fill="#d8d8ff" fill-opacity="0.55"/><rect x="498.3" y="125.9" width="1.5" height="1.5" fill="#d8d8ff" fill-opacity="0.52"/><rect x="500.6" y="150.6" width="3" height="3" fill="#d8d8ff" fill-opacity="0.38"/><rect x="560.1" y="148.7" width="3" height="3" fill="#d8d8ff" fill-opacity="0.60"/><rect x="571.3" y="73.5" width="3" height="1.5" fill="#d8d8ff" fill-opacity="0.51"/><rect x="415.4" y="151.6" width="3" height="4.5" fill="#d8d8ff" fill-opacity="0.32"/><rect x="371.8" y="170.4" width="4.5" height="3" fill="#d8d8ff" fill-opacity="0.30"/><rect x="554.9" y="95.8" width="3" height="1.5" fill="#d8d8ff" fill-opacity="0.49"/><rect x="382.7" y="79.8" width="3" height="3" fill="#d8d8ff" fill-opacity="0.52"/>
<g><circle cx="325.4" cy="38.6" r="4.7" fill="#8c8cff" fill-opacity="0.45"/><circle cx="325.4" cy="38.6" r="3.6" fill="#1212f0"/><rect x="324.3" y="37.7" width="2.2" height="1.8" fill="#a09a30"/><circle cx="352.4" cy="38.0" r="4.7" fill="#8c8cff" fill-opacity="0.45"/><circle cx="352.4" cy="38.0" r="3.6" fill="#1212f0"/><rect x="350.8" y="36.7" width="3.2" height="2.6" fill="#f23a00"/><circle cx="379.4" cy="37.5" r="4.7" fill="#8c8cff" fill-opacity="0.45"/><circle cx="379.4" cy="37.5" r="3.6" fill="#1212f0"/><rect x="377.8" y="36.2" width="3.2" height="2.6" fill="#e6da12"/><circle cx="406.3" cy="36.9" r="4.7" fill="#8c8cff" fill-opacity="0.45"/><circle cx="406.3" cy="36.9" r="3.6" fill="#1212f0"/><rect x="404.7" y="35.6" width="3.2" height="2.6" fill="#e6da12"/><circle cx="433.3" cy="36.4" r="4.7" fill="#8c8cff" fill-opacity="0.45"/><circle cx="433.3" cy="36.4" r="3.6" fill="#1212f0"/><rect x="431.7" y="35.1" width="3.2" height="2.6" fill="#f29c00"/><circle cx="460.3" cy="35.8" r="4.7" fill="#8c8cff" fill-opacity="0.45"/><circle cx="460.3" cy="35.8" r="3.6" fill="#1212f0"/><rect x="458.7" y="34.5" width="3.2" height="2.6" fill="#e6da12"/><circle cx="487.3" cy="35.3" r="4.7" fill="#8c8cff" fill-opacity="0.45"/><circle cx="487.3" cy="35.3" r="3.6" fill="#1212f0"/><rect x="485.7" y="34.0" width="3.2" height="2.6" fill="#e6da12"/><circle cx="514.2" cy="34.7" r="4.7" fill="#8c8cff" fill-opacity="0.45"/><circle cx="514.2" cy="34.7" r="3.6" fill="#1212f0"/><rect x="512.6" y="33.4" width="3.2" height="2.6" fill="#e6da12"/><circle cx="541.2" cy="34.2" r="4.7" fill="#8c8cff" fill-opacity="0.45"/><circle cx="541.2" cy="34.2" r="3.6" fill="#1212f0"/><rect x="539.6" y="32.9" width="3.2" height="2.6" fill="#f29c00"/><circle cx="568.2" cy="33.6" r="4.7" fill="#8c8cff" fill-opacity="0.45"/><circle cx="568.2" cy="33.6" r="3.6" fill="#1212f0"/><rect x="566.6" y="32.3" width="3.2" height="2.6" fill="#e6da12"/><circle cx="325.6" cy="65.0" r="4.7" fill="#8c8cff" fill-opacity="0.45"/><circle cx="325.6" cy="65.0" r="3.6" fill="#1212f0"/><rect x="324.0" y="63.7" width="3.2" height="2.6" fill="#e6da12"/><circle cx="352.5" cy="64.5" r="4.7" fill="#8c8cff" fill-opacity="0.45"/><circle cx="352.5" cy="64.5" r="3.6" fill="#1212f0"/><rect x="351.4" y="63.6" width="2.2" height="1.8" fill="#a09a30"/><circle cx="379.4" cy="64.1" r="4.7" fill="#8c8cff" fill-opacity="0.45"/><circle cx="379.4" cy="64.1" r="3.6" fill="#1212f0"/><rect x="377.8" y="62.8" width="3.2" height="2.6" fill="#e6da12"/><circle cx="406.2" cy="63.6" r="4.7" fill="#8c8cff" fill-opacity="0.45"/><circle cx="406.2" cy="63.6" r="3.6" fill="#1212f0"/><rect x="404.6" y="62.3" width="3.2" height="2.6" fill="#e6da12"/><circle cx="433.1" cy="63.1" r="4.7" fill="#8c8cff" fill-opacity="0.45"/><circle cx="433.1" cy="63.1" r="3.6" fill="#1212f0"/><rect x="431.5" y="61.8" width="3.2" height="2.6" fill="#f23a00"/><circle cx="460.0" cy="62.7" r="4.7" fill="#8c8cff" fill-opacity="0.45"/><circle cx="460.0" cy="62.7" r="3.6" fill="#1212f0"/><rect x="458.4" y="61.4" width="3.2" height="2.6" fill="#e6da12"/><circle cx="486.9" cy="62.2" r="4.7" fill="#8c8cff" fill-opacity="0.45"/><circle cx="486.9" cy="62.2" r="3.6" fill="#1212f0"/><rect x="485.3" y="60.9" width="3.2" height="2.6" fill="#e6da12"/><circle cx="513.7" cy="61.7" r="4.7" fill="#8c8cff" fill-opacity="0.45"/><circle cx="513.7" cy="61.7" r="3.6" fill="#1212f0"/><rect x="512.1" y="60.4" width="3.2" height="2.6" fill="#f29c00"/><circle cx="540.6" cy="61.3" r="4.7" fill="#8c8cff" fill-opacity="0.45"/><circle cx="540.6" cy="61.3" r="3.6" fill="#1212f0"/><rect x="539.0" y="60.0" width="3.2" height="2.6" fill="#e6da12"/><circle cx="567.5" cy="60.8" r="4.7" fill="#8c8cff" fill-opacity="0.45"/><circle cx="567.5" cy="60.8" r="3.6" fill="#1212f0"/><rect x="565.9" y="59.5" width="3.2" height="2.6" fill="#f23a00"/><circle cx="326.1" cy="91.7" r="4.7" fill="#8c8cff" fill-opacity="0.45"/><circle cx="326.1" cy="91.7" r="3.6" fill="#1212f0"/><rect x="324.5" y="90.4" width="3.2" height="2.6" fill="#e6da12"/><circle cx="352.9" cy="91.3" r="4.7" fill="#8c8cff" fill-opacity="0.45"/><circle cx="352.9" cy="91.3" r="3.6" fill="#1212f0"/><rect x="351.3" y="90.0" width="3.2" height="2.6" fill="#e6da12"/><circle cx="379.6" cy="90.9" r="4.7" fill="#8c8cff" fill-opacity="0.45"/><circle cx="379.6" cy="90.9" r="3.6" fill="#1212f0"/><rect x="378.0" y="89.6" width="3.2" height="2.6" fill="#e6da12"/><circle cx="406.4" cy="90.5" r="4.7" fill="#8c8cff" fill-opacity="0.45"/><circle cx="406.4" cy="90.5" r="3.6" fill="#1212f0"/><rect x="404.8" y="89.2" width="3.2" height="2.6" fill="#e6da12"/><circle cx="433.2" cy="90.1" r="4.7" fill="#8c8cff" fill-opacity="0.45"/><circle cx="433.2" cy="90.1" r="3.6" fill="#1212f0"/><rect x="431.6" y="88.8" width="3.2" height="2.6" fill="#e6da12"/><circle cx="459.9" cy="89.6" r="4.7" fill="#8c8cff" fill-opacity="0.45"/><circle cx="459.9" cy="89.6" r="3.6" fill="#1212f0"/><rect x="458.3" y="88.3" width="3.2" height="2.6" fill="#e6da12"/><circle cx="486.7" cy="89.2" r="4.7" fill="#8c8cff" fill-opacity="0.45"/><circle cx="486.7" cy="89.2" r="3.6" fill="#1212f0"/><rect x="485.1" y="87.9" width="3.2" height="2.6" fill="#f29c00"/><circle cx="513.5" cy="88.8" r="4.7" fill="#8c8cff" fill-opacity="0.45"/><circle cx="513.5" cy="88.8" r="3.6" fill="#1212f0"/><rect x="511.9" y="87.5" width="3.2" height="2.6" fill="#e6da12"/><circle cx="540.2" cy="88.4" r="4.7" fill="#8c8cff" fill-opacity="0.45"/><circle cx="540.2" cy="88.4" r="3.6" fill="#1212f0"/><rect x="538.6" y="87.1" width="3.2" height="2.6" fill="#f23a00"/><circle cx="567.0" cy="88.0" r="4.7" fill="#8c8cff" fill-opacity="0.45"/><circle cx="567.0" cy="88.0" r="3.6" fill="#1212f0"/><rect x="565.9" y="87.1" width="2.2" height="1.8" fill="#a09a30"/><circle cx="326.6" cy="118.3" r="4.7" fill="#8c8cff" fill-opacity="0.45"/><circle cx="326.6" cy="118.3" r="3.6" fill="#1212f0"/><rect x="325.0" y="117.0" width="3.2" height="2.6" fill="#f29c00"/><circle cx="353.3" cy="117.9" r="4.7" fill="#8c8cff" fill-opacity="0.45"/><circle cx="353.3" cy="117.9" r="3.6" fill="#1212f0"/><rect x="351.7" y="116.6" width="3.2" height="2.6" fill="#f29c00"/><circle cx="379.9" cy="117.6" r="4.7" fill="#8c8cff" fill-opacity="0.45"/><circle cx="379.9" cy="117.6" r="3.6" fill="#1212f0"/><rect x="378.3" y="116.3" width="3.2" height="2.6" fill="#f23a00"/><circle cx="406.6" cy="117.2" r="4.7" fill="#8c8cff" fill-opacity="0.45"/><circle cx="406.6" cy="117.2" r="3.6" fill="#1212f0"/><rect x="405.0" y="115.9" width="3.2" height="2.6" fill="#e6da12"/><circle cx="433.2" cy="116.9" r="4.7" fill="#8c8cff" fill-opacity="0.45"/><circle cx="433.2" cy="116.9" r="3.6" fill="#1212f0"/><rect x="431.6" y="115.6" width="3.2" height="2.6" fill="#e6da12"/><circle cx="459.9" cy="116.5" r="4.7" fill="#8c8cff" fill-opacity="0.45"/><circle cx="459.9" cy="116.5" r="3.6" fill="#1212f0"/><rect x="458.3" y="115.2" width="3.2" height="2.6" fill="#e6da12"/><circle cx="486.5" cy="116.2" r="4.7" fill="#8c8cff" fill-opacity="0.45"/><circle cx="486.5" cy="116.2" r="3.6" fill="#1212f0"/><rect x="484.9" y="114.9" width="3.2" height="2.6" fill="#e6da12"/><circle cx="513.2" cy="115.8" r="4.7" fill="#8c8cff" fill-opacity="0.45"/><circle cx="513.2" cy="115.8" r="3.6" fill="#1212f0"/><rect x="511.6" y="114.5" width="3.2" height="2.6" fill="#f29c00"/><circle cx="539.8" cy="115.5" r="4.7" fill="#8c8cff" fill-opacity="0.45"/><circle cx="539.8" cy="115.5" r="3.6" fill="#1212f0"/><rect x="538.2" y="114.2" width="3.2" height="2.6" fill="#f29c00"/><circle cx="566.5" cy="115.1" r="4.7" fill="#8c8cff" fill-opacity="0.45"/><circle cx="566.5" cy="115.1" r="3.6" fill="#1212f0"/><rect x="564.9" y="113.8" width="3.2" height="2.6" fill="#f23a00"/><circle cx="327.3" cy="143.5" r="4.7" fill="#8c8cff" fill-opacity="0.45"/><circle cx="327.3" cy="143.5" r="3.6" fill="#1212f0"/><rect x="325.7" y="142.2" width="3.2" height="2.6" fill="#e6da12"/><circle cx="353.7" cy="143.2" r="4.7" fill="#8c8cff" fill-opacity="0.45"/><circle cx="353.7" cy="143.2" r="3.6" fill="#1212f0"/><rect x="352.1" y="141.9" width="3.2" height="2.6" fill="#f29c00"/><circle cx="380.2" cy="142.9" r="4.7" fill="#8c8cff" fill-opacity="0.45"/><circle cx="380.2" cy="142.9" r="3.6" fill="#1212f0"/><rect x="378.6" y="141.6" width="3.2" height="2.6" fill="#f23a00"/><circle cx="406.6" cy="142.5" r="4.7" fill="#8c8cff" fill-opacity="0.45"/><circle cx="406.6" cy="142.5" r="3.6" fill="#1212f0"/><rect x="405.0" y="141.2" width="3.2" height="2.6" fill="#e6da12"/><circle cx="433.0" cy="142.2" r="4.7" fill="#8c8cff" fill-opacity="0.45"/><circle cx="433.0" cy="142.2" r="3.6" fill="#1212f0"/><rect x="431.4" y="140.9" width="3.2" height="2.6" fill="#f29c00"/><circle cx="459.5" cy="141.9" r="4.7" fill="#8c8cff" fill-opacity="0.45"/><circle cx="459.5" cy="141.9" r="3.6" fill="#1212f0"/><rect x="457.9" y="140.6" width="3.2" height="2.6" fill="#e6da12"/><circle cx="485.9" cy="141.6" r="4.7" fill="#8c8cff" fill-opacity="0.45"/><circle cx="485.9" cy="141.6" r="3.6" fill="#1212f0"/><rect x="484.3" y="140.3" width="3.2" height="2.6" fill="#e6da12"/><circle cx="512.3" cy="141.2" r="4.7" fill="#8c8cff" fill-opacity="0.45"/><circle cx="512.3" cy="141.2" r="3.6" fill="#1212f0"/><rect x="510.7" y="139.9" width="3.2" height="2.6" fill="#e6da12"/><circle cx="538.8" cy="140.9" r="4.8" fill="#8c8cff" fill-opacity="0.45"/><circle cx="538.8" cy="140.9" r="3.7" fill="#1212f0"/><rect x="536.2" y="138.3" width="5.2" height="5.2" fill="#ff2000"/><rect x="536.2" y="142.3" width="5.2" height="1.2" fill="#ff7000"/><circle cx="565.2" cy="140.6" r="4.7" fill="#8c8cff" fill-opacity="0.45"/><circle cx="565.2" cy="140.6" r="3.6" fill="#1212f0"/><rect x="563.6" y="139.3" width="3.2" height="2.6" fill="#f29c00"/><circle cx="327.8" cy="169.4" r="4.7" fill="#8c8cff" fill-opacity="0.45"/><circle cx="327.8" cy="169.4" r="3.6" fill="#1212f0"/><rect x="326.7" y="168.5" width="2.2" height="1.8" fill="#a09a30"/><circle cx="354.0" cy="169.2" r="4.7" fill="#8c8cff" fill-opacity="0.45"/><circle cx="354.0" cy="169.2" r="3.6" fill="#1212f0"/><rect x="352.4" y="167.9" width="3.2" height="2.6" fill="#f29c00"/><circle cx="380.3" cy="169.0" r="4.7" fill="#8c8cff" fill-opacity="0.45"/><circle cx="380.3" cy="169.0" r="3.6" fill="#1212f0"/><rect x="378.7" y="167.7" width="3.2" height="2.6" fill="#e6da12"/><circle cx="406.5" cy="168.8" r="4.7" fill="#8c8cff" fill-opacity="0.45"/><circle cx="406.5" cy="168.8" r="3.6" fill="#1212f0"/><rect x="404.9" y="167.5" width="3.2" height="2.6" fill="#f23a00"/><circle cx="432.8" cy="168.6" r="4.7" fill="#8c8cff" fill-opacity="0.45"/><circle cx="432.8" cy="168.6" r="3.6" fill="#1212f0"/><rect x="431.2" y="167.3" width="3.2" height="2.6" fill="#f23a00"/><circle cx="459.0" cy="168.5" r="4.7" fill="#8c8cff" fill-opacity="0.45"/><circle cx="459.0" cy="168.5" r="3.6" fill="#1212f0"/><rect x="457.9" y="167.6" width="2.2" height="1.8" fill="#a09a30"/><circle cx="485.3" cy="168.3" r="4.7" fill="#8c8cff" fill-opacity="0.45"/><circle cx="485.3" cy="168.3" r="3.6" fill="#1212f0"/><rect x="483.7" y="167.0" width="3.2" height="2.6" fill="#f29c00"/><circle cx="511.5" cy="168.1" r="4.7" fill="#8c8cff" fill-opacity="0.45"/><circle cx="511.5" cy="168.1" r="3.6" fill="#1212f0"/><rect x="509.9" y="166.8" width="3.2" height="2.6" fill="#f23a00"/><circle cx="537.8" cy="167.9" r="4.7" fill="#8c8cff" fill-opacity="0.45"/><circle cx="537.8" cy="167.9" r="3.6" fill="#1212f0"/><rect x="536.2" y="166.6" width="3.2" height="2.6" fill="#f29c00"/><circle cx="564.0" cy="167.7" r="4.7" fill="#8c8cff" fill-opacity="0.45"/><circle cx="564.0" cy="167.7" r="3.6" fill="#1212f0"/><rect x="562.4" y="166.4" width="3.2" height="2.6" fill="#e6da12"/><circle cx="329.1" cy="196.6" r="4.7" fill="#8c8cff" fill-opacity="0.45"/><circle cx="329.1" cy="196.6" r="3.6" fill="#1212f0"/><rect x="327.5" y="195.3" width="3.2" height="2.6" fill="#e6da12"/><circle cx="355.1" cy="196.5" r="4.7" fill="#8c8cff" fill-opacity="0.45"/><circle cx="355.1" cy="196.5" r="3.6" fill="#1212f0"/><rect x="353.5" y="195.2" width="3.2" height="2.6" fill="#f29c00"/><circle cx="381.1" cy="196.3" r="4.7" fill="#8c8cff" fill-opacity="0.45"/><circle cx="381.1" cy="196.3" r="3.6" fill="#1212f0"/><rect x="379.5" y="195.0" width="3.2" height="2.6" fill="#e6da12"/><circle cx="407.2" cy="196.2" r="4.7" fill="#8c8cff" fill-opacity="0.45"/><circle cx="407.2" cy="196.2" r="3.6" fill="#1212f0"/><rect x="405.6" y="194.9" width="3.2" height="2.6" fill="#f23a00"/><circle cx="433.2" cy="196.1" r="4.7" fill="#8c8cff" fill-opacity="0.45"/><circle cx="433.2" cy="196.1" r="3.6" fill="#1212f0"/><rect x="431.6" y="194.8" width="3.2" height="2.6" fill="#e6da12"/><circle cx="459.2" cy="195.9" r="4.7" fill="#8c8cff" fill-opacity="0.45"/><circle cx="459.2" cy="195.9" r="3.6" fill="#1212f0"/><rect x="457.6" y="194.6" width="3.2" height="2.6" fill="#f29c00"/><circle cx="485.2" cy="195.8" r="4.7" fill="#8c8cff" fill-opacity="0.45"/><circle cx="485.2" cy="195.8" r="3.6" fill="#1212f0"/><rect x="483.6" y="194.5" width="3.2" height="2.6" fill="#e6da12"/><circle cx="511.3" cy="195.7" r="4.7" fill="#8c8cff" fill-opacity="0.45"/><circle cx="511.3" cy="195.7" r="3.6" fill="#1212f0"/><rect x="509.7" y="194.4" width="3.2" height="2.6" fill="#e6da12"/><circle cx="537.3" cy="195.5" r="4.7" fill="#8c8cff" fill-opacity="0.45"/><circle cx="537.3" cy="195.5" r="3.6" fill="#1212f0"/><rect x="536.2" y="194.6" width="2.2" height="1.8" fill="#a09a30"/><circle cx="563.3" cy="195.4" r="4.7" fill="#8c8cff" fill-opacity="0.45"/><circle cx="563.3" cy="195.4" r="3.6" fill="#1212f0"/><rect x="561.7" y="194.1" width="3.2" height="2.6" fill="#e6da12"/><circle cx="329.8" cy="223.8" r="4.7" fill="#8c8cff" fill-opacity="0.45"/><circle cx="329.8" cy="223.8" r="3.6" fill="#1212f0"/><rect x="328.2" y="222.5" width="3.2" height="2.6" fill="#f29c00"/><circle cx="355.6" cy="223.7" r="4.7" fill="#8c8cff" fill-opacity="0.45"/><circle cx="355.6" cy="223.7" r="3.6" fill="#1212f0"/><rect x="354.0" y="222.4" width="3.2" height="2.6" fill="#e6da12"/><circle cx="381.4" cy="223.7" r="4.7" fill="#8c8cff" fill-opacity="0.45"/><circle cx="381.4" cy="223.7" r="3.6" fill="#1212f0"/><rect x="380.3" y="222.8" width="2.2" height="1.8" fill="#a09a30"/><circle cx="407.2" cy="223.6" r="4.7" fill="#8c8cff" fill-opacity="0.45"/><circle cx="407.2" cy="223.6" r="3.6" fill="#1212f0"/><rect x="405.6" y="222.3" width="3.2" height="2.6" fill="#e6da12"/><circle cx="433.0" cy="223.6" r="4.7" fill="#8c8cff" fill-opacity="0.45"/><circle cx="433.0" cy="223.6" r="3.6" fill="#1212f0"/><rect x="431.4" y="222.3" width="3.2" height="2.6" fill="#e6da12"/><circle cx="458.8" cy="223.5" r="4.7" fill="#8c8cff" fill-opacity="0.45"/><circle cx="458.8" cy="223.5" r="3.6" fill="#1212f0"/><rect x="457.2" y="222.2" width="3.2" height="2.6" fill="#f29c00"/><circle cx="484.6" cy="223.5" r="4.7" fill="#8c8cff" fill-opacity="0.45"/><circle cx="484.6" cy="223.5" r="3.6" fill="#1212f0"/><rect x="483.0" y="222.2" width="3.2" height="2.6" fill="#f29c00"/><circle cx="510.4" cy="223.4" r="4.7" fill="#8c8cff" fill-opacity="0.45"/><circle cx="510.4" cy="223.4" r="3.6" fill="#1212f0"/><rect x="508.8" y="222.1" width="3.2" height="2.6" fill="#f23a00"/><circle cx="536.2" cy="223.4" r="4.7" fill="#8c8cff" fill-opacity="0.45"/><circle cx="536.2" cy="223.4" r="3.6" fill="#1212f0"/><rect x="534.6" y="222.1" width="3.2" height="2.6" fill="#f29c00"/><circle cx="562.0" cy="223.3" r="4.7" fill="#8c8cff" fill-opacity="0.45"/><circle cx="562.0" cy="223.3" r="3.6" fill="#1212f0"/><rect x="560.4" y="222.0" width="3.2" height="2.6" fill="#f23a00"/><circle cx="331.3" cy="250.9" r="4.7" fill="#8c8cff" fill-opacity="0.45"/><circle cx="331.3" cy="250.9" r="3.6" fill="#1212f0"/><rect x="330.2" y="250.0" width="2.2" height="1.8" fill="#a09a30"/><circle cx="356.9" cy="250.8" r="4.7" fill="#8c8cff" fill-opacity="0.45"/><circle cx="356.9" cy="250.8" r="3.6" fill="#1212f0"/><rect x="355.3" y="249.5" width="3.2" height="2.6" fill="#f29c00"/><circle cx="382.5" cy="250.7" r="4.7" fill="#8c8cff" fill-opacity="0.45"/><circle cx="382.5" cy="250.7" r="3.6" fill="#1212f0"/><rect x="380.9" y="249.4" width="3.2" height="2.6" fill="#f29c00"/><circle cx="408.0" cy="250.7" r="4.7" fill="#8c8cff" fill-opacity="0.45"/><circle cx="408.0" cy="250.7" r="3.6" fill="#1212f0"/><rect x="406.4" y="249.4" width="3.2" height="2.6" fill="#f29c00"/><circle cx="433.6" cy="250.6" r="4.7" fill="#8c8cff" fill-opacity="0.45"/><circle cx="433.6" cy="250.6" r="3.6" fill="#1212f0"/><rect x="432.0" y="249.3" width="3.2" height="2.6" fill="#f29c00"/><circle cx="459.2" cy="250.5" r="4.7" fill="#8c8cff" fill-opacity="0.45"/><circle cx="459.2" cy="250.5" r="3.6" fill="#1212f0"/><rect x="458.1" y="249.6" width="2.2" height="1.8" fill="#a09a30"/><circle cx="484.8" cy="250.4" r="4.7" fill="#8c8cff" fill-opacity="0.45"/><circle cx="484.8" cy="250.4" r="3.6" fill="#1212f0"/><rect x="483.2" y="249.1" width="3.2" height="2.6" fill="#e6da12"/><circle cx="510.3" cy="250.4" r="4.7" fill="#8c8cff" fill-opacity="0.45"/><circle cx="510.3" cy="250.4" r="3.6" fill="#1212f0"/><rect x="508.7" y="249.1" width="3.2" height="2.6" fill="#e6da12"/><circle cx="535.9" cy="250.3" r="4.7" fill="#8c8cff" fill-opacity="0.45"/><circle cx="535.9" cy="250.3" r="3.6" fill="#1212f0"/><rect x="534.3" y="249.0" width="3.2" height="2.6" fill="#e6da12"/><circle cx="561.5" cy="250.2" r="4.7" fill="#8c8cff" fill-opacity="0.45"/><circle cx="561.5" cy="250.2" r="3.6" fill="#1212f0"/><rect x="559.9" y="248.9" width="3.2" height="2.6" fill="#e6da12"/><circle cx="332.3" cy="277.3" r="4.7" fill="#8c8cff" fill-opacity="0.45"/><circle cx="332.3" cy="277.3" r="3.6" fill="#1212f0"/><rect x="330.7" y="276.0" width="3.2" height="2.6" fill="#f29c00"/><circle cx="357.7" cy="277.3" r="4.7" fill="#8c8cff" fill-opacity="0.45"/><circle cx="357.7" cy="277.3" r="3.6" fill="#1212f0"/><rect x="356.1" y="276.0" width="3.2" height="2.6" fill="#e6da12"/><circle cx="383.1" cy="277.3" r="4.7" fill="#8c8cff" fill-opacity="0.45"/><circle cx="383.1" cy="277.3" r="3.6" fill="#1212f0"/><rect x="381.5" y="276.0" width="3.2" height="2.6" fill="#e6da12"/><circle cx="408.5" cy="277.3" r="4.7" fill="#8c8cff" fill-opacity="0.45"/><circle cx="408.5" cy="277.3" r="3.6" fill="#1212f0"/><rect x="406.9" y="276.0" width="3.2" height="2.6" fill="#e6da12"/><circle cx="433.9" cy="277.3" r="4.7" fill="#8c8cff" fill-opacity="0.45"/><circle cx="433.9" cy="277.3" r="3.6" fill="#1212f0"/><rect x="432.3" y="276.0" width="3.2" height="2.6" fill="#e6da12"/><circle cx="459.2" cy="277.3" r="4.7" fill="#8c8cff" fill-opacity="0.45"/><circle cx="459.2" cy="277.3" r="3.6" fill="#1212f0"/><rect x="457.6" y="276.0" width="3.2" height="2.6" fill="#f23a00"/><circle cx="484.6" cy="277.3" r="4.7" fill="#8c8cff" fill-opacity="0.45"/><circle cx="484.6" cy="277.3" r="3.6" fill="#1212f0"/><rect x="483.0" y="276.0" width="3.2" height="2.6" fill="#f29c00"/><circle cx="510.0" cy="277.3" r="4.7" fill="#8c8cff" fill-opacity="0.45"/><circle cx="510.0" cy="277.3" r="3.6" fill="#1212f0"/><rect x="508.4" y="276.0" width="3.2" height="2.6" fill="#e6da12"/><circle cx="535.4" cy="277.3" r="4.7" fill="#8c8cff" fill-opacity="0.45"/><circle cx="535.4" cy="277.3" r="3.6" fill="#1212f0"/><rect x="533.8" y="276.0" width="3.2" height="2.6" fill="#f23a00"/><circle cx="560.8" cy="277.3" r="4.7" fill="#8c8cff" fill-opacity="0.45"/><circle cx="560.8" cy="277.3" r="3.6" fill="#1212f0"/><rect x="559.2" y="276.0" width="3.2" height="2.6" fill="#e6da12"/></g>
<circle cx="352.6" cy="64.6" r="12" fill="none" stroke="#d21c1c" stroke-width="2.1"/>
<g stroke="#111" stroke-width="1.45" fill="none">
<rect x="313.5" y="27.0" width="267.5" height="266.8"/><line x1="313.5" y1="39.9" x2="309.0" y2="39.9"/><line x1="326.3" y1="293.8" x2="326.3" y2="298.8"/><line x1="313.5" y1="66.6" x2="309.0" y2="66.6"/><line x1="353.1" y1="293.8" x2="353.1" y2="298.8"/><line x1="313.5" y1="93.2" x2="309.0" y2="93.2"/><line x1="379.8" y1="293.8" x2="379.8" y2="298.8"/><line x1="313.5" y1="119.9" x2="309.0" y2="119.9"/><line x1="406.6" y1="293.8" x2="406.6" y2="298.8"/><line x1="313.5" y1="146.6" x2="309.0" y2="146.6"/><line x1="433.3" y1="293.8" x2="433.3" y2="298.8"/><line x1="313.5" y1="173.3" x2="309.0" y2="173.3"/><line x1="460.1" y1="293.8" x2="460.1" y2="298.8"/><line x1="313.5" y1="199.9" x2="309.0" y2="199.9"/><line x1="486.8" y1="293.8" x2="486.8" y2="298.8"/><line x1="313.5" y1="226.6" x2="309.0" y2="226.6"/><line x1="513.5" y1="293.8" x2="513.5" y2="298.8"/><line x1="313.5" y1="253.3" x2="309.0" y2="253.3"/><line x1="540.3" y1="293.8" x2="540.3" y2="298.8"/><line x1="313.5" y1="279.9" x2="309.0" y2="279.9"/><line x1="567.0" y1="293.8" x2="567.0" y2="298.8"/>
</g>
<rect x="579.5" y="68" width="22" height="173" fill="#fff"/>
<rect x="580.2" y="74" width="16.2" height="163.8" fill="url(#cb)" stroke="#333" stroke-width="1.1"/>
<g stroke="#333" stroke-width="1.1">
<line x1="596.4" y1="74" x2="599.3" y2="74"/><line x1="596.4" y1="114.8" x2="599.3" y2="114.8"/>
<line x1="596.4" y1="155.3" x2="599.3" y2="155.3"/><line x1="596.4" y1="197.4" x2="599.3" y2="197.4"/>
<line x1="596.4" y1="237.8" x2="599.3" y2="237.8"/></g>
<g font-family='"Liberation Sans", sans-serif' font-size="24.3" fill="#000">
<text x="600" y="83.6">40</text><text x="600" y="123.2">30</text><text x="600" y="165.2">20</text>
<path d="M763 0L583 0L583 1147Q518 1085 412 1023Q306 961 223 930L223 1104Q374 1175 487 1276Q600 1377 647 1472L763 1472Z" transform="translate(600.00,205.60) scale(0.01187,-0.01187)"/><text x="613.51" y="205.60" font-size="24.3">0</text><text x="598.8" y="245.6">0.2</text>
<text transform="translate(649,208) rotate(-90)">kCounts/s</text>
<text x="463" y="323.5" font-size="23.5" textLength="55.5" lengthAdjust="spacing">5 µm</text>
</g>
<g stroke="#000" stroke-width="1.5" fill="#000">
<line x1="461" y1="303.2" x2="486.6" y2="303.2"/>
<path d="M459.7 303.2 l4.5 -2.4 v4.8z M487.9 303.2 l-4.5 -2.4 v4.8z" stroke="none"/>
</g>
<!-- panel a -->
<polyline points="83.4,465.7 84.6,465.9 85.9,463.9 87.1,464.1 88.3,462.1 89.6,462.8 90.8,460.9 92.0,460.6 93.3,458.5 94.5,459.5 95.7,456.7 96.9,456.9 98.2,454.5 99.4,453.3 100.6,447.1 101.9,443.5 103.1,438.6 104.3,435.9 105.6,427.7 106.8,420.0 107.5,409.0 109.0,393.5 109.8,362.3 110.4,330.0 111.2,200.0 111.6,130.0 112.2,60.0 112.6,29.5 113.2,40.0 113.8,90.0 114.6,156.0 115.3,250.0 115.9,330.0 116.0,339.0 117.6,377.9 118.6,388.7 119.5,398.4 120.5,408.1 121.4,411.5 122.4,409.8 123.3,412.1 124.3,417.8 125.2,421.3 126.2,426.8 127.1,428.5 128.1,434.0 129.0,434.3 130.0,439.1 130.9,438.5 131.9,441.3 132.8,440.1 133.8,441.3 134.7,440.1 135.7,442.0 136.6,438.4 137.6,438.7 138.5,435.6 139.5,436.4 140.4,434.4 141.4,433.4 142.3,431.3 143.3,431.1 144.2,429.0 145.2,429.4 146.1,426.3 147.1,427.8 148.0,421.3 149.0,418.7 149.9,414.2 150.9,421.6 151.8,422.7 152.8,424.3 153.7,421.6 154.7,422.9 155.6,417.5 156.6,411.6 157.5,403.0 158.5,403.1 159.4,406.5 160.4,415.3 161.3,414.3 162.3,413.8 163.2,410.2 164.2,409.6 165.1,406.9 166.1,405.9 167.0,404.1 168.0,404.1 168.9,397.2 169.9,394.1 170.8,386.0 171.8,385.2 172.7,377.8 173.7,377.8 174.6,372.5 175.6,369.2 176.5,360.3 177.5,357.7 178.4,356.9 179.4,361.1 180.3,356.9 181.3,352.1 182.2,340.9 183.2,333.4 184.1,312.1 185.1,315.3 186.0,308.4 187.0,311.6 187.9,312.1 188.9,308.9 189.8,302.5 190.8,292.9 191.7,285.6 192.7,284.2 193.6,276.9 194.6,272.0 195.5,266.1 196.5,274.2 197.4,274.5 198.4,271.0 199.3,267.8 200.3,270.9 201.2,267.5 202.2,277.4 203.1,279.9 204.1,283.2 205.0,281.1 206.0,286.8 206.9,289.1 207.9,294.3 208.8,297.0 209.8,304.4 210.7,299.6 211.7,302.4 212.6,296.2 213.6,300.3 214.5,298.1 215.5,300.1 216.4,296.3 217.4,298.2 218.3,303.1 219.3,306.6 220.2,305.2 221.2,311.8 222.1,306.7 223.1,311.3 224.0,314.1 225.0,315.5 225.9,312.1 226.9,320.0 227.8,320.8 228.8,324.8 229.7,324.8 230.7,329.5 231.6,332.0 232.6,337.7 233.5,333.5 234.5,331.6 235.4,332.8 236.4,336.0 237.3,339.8 238.3,344.9 239.2,344.0 240.2,345.9 241.1,337.1 242.1,345.0 243.0,346.2 244.0,349.9 244.9,349.5 245.9,349.7 246.8,347.0 247.8,348.9 248.7,343.1 249.7,347.7 250.6,345.7 251.6,352.9 252.5,351.8 253.5,353.3 254.4,348.8 255.4,350.1 256.3,342.4 257.3,347.8 258.2,345.6 259.2,344.5 260.1,335.9 261.1,340.0 262.0,338.7 263.0,342.6 263.9,338.6 264.9,343.0 265.8,335.9 266.8,337.7 267.7,331.5 268.7,334.2 269.6,328.7 270.6,329.7 271.5,324.9 272.5,323.4 273.4,318.0 274.4,320.7 275.3,318.8 276.3,323.4 277.2,321.2 278.2,326.6 279.1,320.4 280.1,316.1 281.0,308.7 282.0,306.7 282.9,301.1 283.9,300.9 284.8,290.3 285.8,287.1 286.7,276.8 287.7,271.0 288.6,262.9 289.6,269.0 290.5,265.8 291.5,263.5 292.4,263.0 293.4,270.0 294.3,272.1 295.3,281.2 296.3,287.1 297.2,294.0 298.2,295.7 299.1,302.0 300.1,304.7 301.0,311.2 302.0,311.2 302.9,318.1 303.9,314.2 304.8,317.0 305.8,315.7 306.7,320.7 307.7,324.6 308.6,332.9 309.6,325.3 310.5,328.3 311.5,330.7 312.4,336.4 313.4,336.3 314.3,337.0 315.3,330.2 316.2,330.2 317.2,330.7 318.1,338.4 319.1,336.3 320.0,342.3 321.0,339.7 321.9,339.4 322.9,337.3 323.8,340.6 324.8,341.2 325.7,346.6 326.7,342.8 327.6,342.4 328.6,335.5 329.5,337.3 330.5,337.8 331.4,340.8 332.4,342.7 333.3,345.7 334.3,343.5 335.2,341.1 336.2,336.1 337.1,340.3 338.1,337.7 339.0,341.9 340.0,337.6 340.9,336.7 341.9,338.7 342.8,339.9 343.8,336.4 344.7,335.9 345.7,335.5 346.6,340.9 347.6,342.3 348.5,350.2 349.5,352.0 350.4,353.6 351.4,341.6 352.3,346.1 353.3,344.2 354.2,343.7 355.2,340.1 356.1,345.6 357.1,347.4 358.0,347.6 359.0,341.5 359.9,337.7 360.9,337.6 361.8,347.9 362.8,340.3 363.7,339.0 364.7,332.1 365.6,333.8 366.6,327.5 367.5,331.8 368.5,335.1 369.4,342.0 370.4,339.5 371.3,340.4 372.3,336.7 373.2,341.0 374.2,336.7 375.1,341.3 376.1,337.2 377.0,336.9 378.0,329.0 378.9,335.8 379.9,336.9 380.8,342.8 381.8,347.0 382.7,348.5 383.7,340.5 384.6,340.5 385.6,336.1 386.5,338.4 387.5,335.7 388.4,345.9 389.4,345.3 390.3,353.3 391.3,349.7 392.2,350.6 393.2,344.6 394.1,347.9 395.1,348.2 396.0,353.2 397.0,353.1 397.9,358.9 398.9,357.7 399.8,357.1 400.8,354.9 401.7,358.4 402.7,360.8 403.6,364.8 404.6,359.8 405.5,359.0 406.5,355.9 407.4,359.7 408.4,359.7 409.3,365.0 410.3,366.0 411.2,369.2 412.2,362.6 413.1,370.1 414.1,371.1 415.0,369.8 416.0,369.1 416.9,372.3 417.9,369.3 418.8,369.0 419.8,367.5 420.7,375.6 421.7,371.2 422.6,373.6 423.6,374.4 424.5,380.5 425.5,382.6 426.4,384.1 427.4,375.7 428.3,379.2 429.3,375.8 430.2,382.8 431.2,382.7 432.1,384.9 433.1,380.4 434.0,379.7 435.0,381.8 435.9,387.0 436.9,382.0 437.8,379.7 438.8,380.2 439.7,388.3 440.7,385.5 441.6,389.2 442.6,385.7 443.5,384.3 444.5,389.2 445.4,387.6 446.4,380.0 447.3,383.0 448.3,379.3 449.2,385.4 450.2,384.1 451.1,384.2 452.1,385.4 453.0,391.7 454.0,387.5 454.9,392.2 455.9,387.7 456.8,386.8 457.8,390.7 458.7,391.0 459.7,387.5 460.6,387.6 461.6,387.6 462.5,388.8 463.5,388.3 464.4,391.2 465.4,388.9 466.3,387.7 467.3,388.1 468.2,395.3 469.2,395.1 470.1,396.1 471.1,391.5 472.0,391.8 473.0,390.4 473.9,392.8 474.9,392.0 475.9,396.8 476.8,397.8 477.8,397.0 478.7,393.9 479.7,395.8 480.6,394.2 481.6,396.8 482.5,392.3 483.5,394.8 484.4,395.1 485.4,398.8 486.3,394.6 487.3,396.7 488.2,397.3 489.2,404.8 490.1,401.7 491.1,402.8 492.0,397.0 493.0,400.3 493.9,397.1 494.9,403.1 495.8,403.8 496.8,405.2 497.7,402.7 498.7,405.6 499.6,405.1 500.6,406.9 501.5,405.3 502.5,407.7 503.4,407.4 504.4,411.6 505.3,409.7 506.3,413.6 507.2,411.4 508.2,410.6 509.1,404.7 510.1,412.1 511.0,414.6 512.0,417.8 512.9,414.7 513.9,416.9 514.8,414.1 515.8,413.7 516.7,412.2 517.7,413.9 518.6,415.2 519.6,419.1 520.5,418.3 521.5,421.4 522.4,420.3 523.4,419.2 524.3,415.9 525.3,418.6 526.2,411.5 527.2,416.1 528.1,417.1 529.1,422.8 530.0,418.1 531.0,420.5 531.9,415.5 532.9,416.6 533.8,415.9 534.8,420.9 535.7,420.4 536.7,421.3 537.6,421.5 538.6,423.1 539.5,419.8 540.5,425.3 541.4,424.9 542.4,427.8 543.3,426.7 544.3,429.3 545.2,428.7 546.2,429.6 547.1,428.8 548.1,430.7 549.0,426.3 550.0,430.0 550.9,427.0 551.9,432.1 552.8,430.0 553.8,431.9 554.7,428.5 555.7,432.3 556.6,430.1 557.6,431.6 558.5,428.8 559.5,433.3 560.4,429.9 561.4,432.9 562.3,430.3 563.3,434.8 564.2,431.9 565.2,436.6 566.1,434.8 567.1,437.2 568.0,434.3 569.0,434.9 569.9,434.0 570.9,436.0 571.8,433.8 572.8,437.5 573.7,436.7 574.7,439.0 575.6,435.8 576.6,437.3 577.5,432.7 578.5,436.2 579.4,434.1 580.4,437.7 581.3,436.2 582.3,440.7 583.2,439.3 584.2,442.4 585.1,440.6 586.1,442.1 587.0,439.3 588.0,442.9 588.9,441.2 589.9,441.9 590.8,436.9 591.8,438.5 592.7,437.9 593.7,441.9 594.6,442.3 595.6,445.0 596.5,446.0 597.5,445.2 598.4,440.3 599.4,444.1 600.3,440.6 601.3,444.6 602.2,443.5 603.2,447.6 604.1,445.3 605.1,445.4 606.0,444.5 607.0,446.9 607.9,442.6 608.9,447.1 609.8,442.6 610.8,444.8 611.7,442.4 612.7,445.6 613.6,444.0 614.6,447.0 615.5,447.2 616.5,450.1 617.4,447.3 618.4,449.1 619.3,445.8 620.3,446.5 621.2,445.5 622.2,448.5 623.1,446.4 624.1,449.3 625.0,446.7 626.0,449.6 626.9,449.7 627.9,450.3 628.8,450.2 629.8,452.7 630.7,449.4 631.7,454.7 632.6,449.6 633.6,451.3 634.5,450.3 635.5,453.9 636.4,450.2 637.4,454.3 638.3,450.3 639.3,454.2 640.2,452.3 641.2,453.8 642.1,451.8 643.1,455.0 644.0,451.1 645.0,452.8 645.9,451.6 646.9,457.0 647.8,454.4 648.8,456.1 649.7,455.0 650.7,456.2 651.6,453.1 652.6,455.0" fill="none" stroke="#0000d0" stroke-width="2.1" stroke-linejoin="round" stroke-linecap="round"/>
<polyline points="300.1,304.7 301.0,311.2 302.0,311.2 302.9,318.1 303.9,314.2 304.8,317.0 305.8,315.7 306.7,320.7 307.7,324.6 308.6,332.9 309.6,325.3 310.5,328.3 311.5,330.7 312.4,336.4 313.4,336.3 314.3,337.0 315.3,330.2 316.2,330.2 317.2,330.7 318.1,338.4 319.1,336.3 320.0,342.3 321.0,339.7 321.9,339.4 322.9,337.3 323.8,340.6 324.8,341.2 325.7,346.6 326.7,342.8 327.6,342.4 328.6,335.5 329.5,337.3 330.5,337.8 331.4,340.8 332.4,342.7 333.3,345.7 334.3,343.5 335.2,341.1 336.2,336.1 337.1,340.3 338.1,337.7 339.0,341.9 340.0,337.6 340.9,336.7 341.9,338.7 342.8,339.9 343.8,336.4 344.7,335.9 345.7,335.5 346.6,340.9 347.6,342.3 348.5,350.2 349.5,352.0 350.4,353.6 351.4,341.6 352.3,346.1 353.3,344.2 354.2,343.7 355.2,340.1 356.1,345.6 357.1,347.4 358.0,347.6 359.0,341.5 359.9,337.7 360.9,337.6 361.8,347.9 362.8,340.3 363.7,339.0 364.7,332.1 365.6,333.8 366.6,327.5 367.5,331.8 368.5,335.1 369.4,342.0 370.4,339.5 371.3,340.4 372.3,336.7 373.2,341.0 374.2,336.7 375.1,341.3 376.1,337.2 377.0,336.9 378.0,329.0 378.9,335.8 379.9,336.9 380.8,342.8 381.8,347.0 382.7,348.5 383.7,340.5 384.6,340.5 385.6,336.1 386.5,338.4 387.5,335.7 388.4,345.9 389.4,345.3 390.3,353.3 391.3,349.7 392.2,350.6 393.2,344.6 394.1,347.9 395.1,348.2 396.0,353.2 397.0,353.1 397.9,358.9 398.9,357.7 399.8,357.1 400.8,354.9 401.7,358.4 402.7,360.8 403.6,364.8 404.6,359.8 405.5,359.0 406.5,355.9 407.4,359.7 408.4,359.7 409.3,365.0 410.3,366.0 411.2,369.2 412.2,362.6 413.1,370.1 414.1,371.1 415.0,369.8 416.0,369.1 416.9,372.3 417.9,369.3 418.8,369.0 419.8,367.5 420.7,375.6 421.7,371.2 422.6,373.6 423.6,374.4 424.5,380.5 425.5,382.6 426.4,384.1 427.4,375.7 428.3,379.2 429.3,375.8 430.2,382.8 431.2,382.7 432.1,384.9 433.1,380.4 434.0,379.7 435.0,381.8 435.9,387.0 436.9,382.0 437.8,379.7 438.8,380.2 439.7,388.3 440.7,385.5 441.6,389.2 442.6,385.7 443.5,384.3 444.5,389.2 445.4,387.6 446.4,380.0 447.3,383.0 448.3,379.3 449.2,385.4 450.2,384.1 451.1,384.2 452.1,385.4 453.0,391.7 454.0,387.5 454.9,392.2 455.9,387.7 456.8,386.8 457.8,390.7 458.7,391.0 459.7,387.5 460.6,387.6 461.6,387.6 462.5,388.8 463.5,388.3 464.4,391.2 465.4,388.9 466.3,387.7 467.3,388.1 468.2,395.3 469.2,395.1 470.1,396.1 471.1,391.5 472.0,391.8 473.0,390.4 473.9,392.8 474.9,392.0 475.9,396.8 476.8,397.8 477.8,397.0 478.7,393.9 479.7,395.8 480.6,394.2 481.6,396.8 482.5,392.3 483.5,394.8 484.4,395.1 485.4,398.8 486.3,394.6 487.3,396.7 488.2,397.3 489.2,404.8 490.1,401.7 491.1,402.8 492.0,397.0 493.0,400.3 493.9,397.1 494.9,403.1 495.8,403.8 496.8,405.2 497.7,402.7 498.7,405.6 499.6,405.1 500.6,406.9 501.5,405.3 502.5,407.7 503.4,407.4 504.4,411.6 505.3,409.7 506.3,413.6 507.2,411.4 508.2,410.6 509.1,404.7 510.1,412.1 511.0,414.6 512.0,417.8 512.9,414.7 513.9,416.9 514.8,414.1 515.8,413.7 516.7,412.2 517.7,413.9 518.6,415.2 519.6,419.1 520.5,418.3 521.5,421.4 522.4,420.3 523.4,419.2 524.3,415.9 525.3,418.6 526.2,411.5 527.2,416.1 528.1,417.1 529.1,422.8 530.0,418.1 531.0,420.5 531.9,415.5 532.9,416.6 533.8,415.9 534.8,420.9 535.7,420.4 536.7,421.3 537.6,421.5 538.6,423.1 539.5,419.8 540.5,425.3 541.4,424.9 542.4,427.8 543.3,426.7 544.3,429.3 545.2,428.7 546.2,429.6 547.1,428.8 548.1,430.7 549.0,426.3 550.0,430.0 550.9,427.0 551.9,432.1 552.8,430.0 553.8,431.9 554.7,428.5 555.7,432.3 556.6,430.1 557.6,431.6 558.5,428.8 559.5,433.3 560.4,429.9 561.4,432.9 562.3,430.3 563.3,434.8 564.2,431.9 565.2,436.6 566.1,434.8 567.1,437.2 568.0,434.3 569.0,434.9 569.9,434.0 570.9,436.0 571.8,433.8 572.8,437.5 573.7,436.7 574.7,439.0 575.6,435.8 576.6,437.3 577.5,432.7 578.5,436.2 579.4,434.1 580.4,437.7 581.3,436.2 582.3,440.7 583.2,439.3 584.2,442.4 585.1,440.6 586.1,442.1 587.0,439.3 588.0,442.9 588.9,441.2 589.9,441.9 590.8,436.9 591.8,438.5 592.7,437.9 593.7,441.9 594.6,442.3 595.6,445.0 596.5,446.0 597.5,445.2 598.4,440.3 599.4,444.1 600.3,440.6 601.3,444.6 602.2,443.5 603.2,447.6 604.1,445.3 605.1,445.4 606.0,444.5 607.0,446.9 607.9,442.6 608.9,447.1 609.8,442.6 610.8,444.8 611.7,442.4 612.7,445.6 613.6,444.0 614.6,447.0 615.5,447.2 616.5,450.1 617.4,447.3 618.4,449.1 619.3,445.8 620.3,446.5 621.2,445.5 622.2,448.5 623.1,446.4 624.1,449.3 625.0,446.7 626.0,449.6 626.9,449.7 627.9,450.3 628.8,450.2 629.8,452.7 630.7,449.4 631.7,454.7 632.6,449.6 633.6,451.3 634.5,450.3 635.5,453.9 636.4,450.2 637.4,454.3 638.3,450.3 639.3,454.2 640.2,452.3 641.2,453.8 642.1,451.8 643.1,455.0 644.0,451.1 645.0,452.8 645.9,451.6 646.9,457.0 647.8,454.4 648.8,456.1 649.7,455.0 650.7,456.2 651.6,453.1 652.6,455.0" fill="none" stroke="#0000d0" stroke-width="2.3" stroke-linejoin="round" stroke-linecap="round"/>
<g stroke="#000" stroke-width="2.4" fill="none" stroke-linecap="butt"><line x1="82.3" y1="469.10" x2="95.30" y2="469.10"/><line x1="82.3" y1="450.75" x2="89.00" y2="450.75"/><line x1="82.3" y1="432.40" x2="89.00" y2="432.40"/><line x1="82.3" y1="414.04" x2="89.00" y2="414.04"/><line x1="82.3" y1="395.69" x2="89.00" y2="395.69"/><line x1="82.3" y1="377.34" x2="95.30" y2="377.34"/><line x1="82.3" y1="358.99" x2="89.00" y2="358.99"/><line x1="82.3" y1="340.64" x2="89.00" y2="340.64"/><line x1="82.3" y1="322.28" x2="89.00" y2="322.28"/><line x1="82.3" y1="303.93" x2="89.00" y2="303.93"/><line x1="82.3" y1="285.58" x2="95.30" y2="285.58"/><line x1="82.3" y1="267.23" x2="89.00" y2="267.23"/><line x1="82.3" y1="248.88" x2="89.00" y2="248.88"/><line x1="82.3" y1="230.52" x2="89.00" y2="230.52"/><line x1="82.3" y1="212.17" x2="89.00" y2="212.17"/><line x1="82.3" y1="193.82" x2="95.30" y2="193.82"/><line x1="82.3" y1="175.47" x2="89.00" y2="175.47"/><line x1="82.3" y1="157.12" x2="89.00" y2="157.12"/><line x1="82.3" y1="138.76" x2="89.00" y2="138.76"/><line x1="82.3" y1="120.41" x2="89.00" y2="120.41"/><line x1="82.3" y1="102.06" x2="95.30" y2="102.06"/><line x1="82.3" y1="83.71" x2="89.00" y2="83.71"/><line x1="82.3" y1="65.36" x2="89.00" y2="65.36"/><line x1="82.3" y1="47.00" x2="89.00" y2="47.00"/><line x1="82.3" y1="28.65" x2="89.00" y2="28.65"/><line x1="82.3" y1="10.30" x2="95.30" y2="10.30"/><line x1="120.33" y1="469.1" x2="120.33" y2="462.10"/><line x1="158.37" y1="469.1" x2="158.37" y2="462.10"/><line x1="196.40" y1="469.1" x2="196.40" y2="462.10"/><line x1="234.43" y1="469.1" x2="234.43" y2="462.10"/><line x1="272.47" y1="469.1" x2="272.47" y2="456.10"/><line x1="310.50" y1="469.1" x2="310.50" y2="462.10"/><line x1="348.53" y1="469.1" x2="348.53" y2="462.10"/><line x1="386.57" y1="469.1" x2="386.57" y2="462.10"/><line x1="424.60" y1="469.1" x2="424.60" y2="462.10"/><line x1="462.63" y1="469.1" x2="462.63" y2="456.10"/><line x1="500.67" y1="469.1" x2="500.67" y2="462.10"/><line x1="538.70" y1="469.1" x2="538.70" y2="462.10"/><line x1="576.73" y1="469.1" x2="576.73" y2="462.10"/><line x1="614.77" y1="469.1" x2="614.77" y2="462.10"/><line x1="119.9" y1="9.3" x2="119.9" y2="15.8"/><line x1="158.2" y1="9.3" x2="158.2" y2="15.8"/><line x1="196" y1="9.3" x2="196" y2="15.8"/><line x1="233.3" y1="9.3" x2="233.3" y2="15.8"/><line x1="272.3" y1="9.3" x2="272.3" y2="22.3"/><line x1="310.4" y1="9.3" x2="310.4" y2="15.8"/><line x1="353.1" y1="9.3" x2="353.1" y2="15.8"/><line x1="377.3" y1="9.3" x2="377.3" y2="15.8"/><line x1="415.2" y1="9.3" x2="415.2" y2="15.8"/><line x1="462.8" y1="9.3" x2="462.8" y2="22.3"/><line x1="491.7" y1="9.3" x2="491.7" y2="15.8"/><line x1="528.9" y1="9.3" x2="528.9" y2="15.8"/><line x1="567.5" y1="9.3" x2="567.5" y2="15.8"/><line x1="605.4" y1="9.3" x2="605.4" y2="15.8"/><line x1="644.2" y1="9.3" x2="644.2" y2="22.3"/><rect x="82.3" y="9.3" width="570.50" height="459.80" fill="none"/></g>
<g font-family='"Liberation Sans", sans-serif' font-size="31" fill="#000">
<text x="77.6" y="21.3" text-anchor="end">25</text>
<text x="77.6" y="113.0" text-anchor="end">20</text>
<path d="M763 0L583 0L583 1147Q518 1085 412 1023Q306 961 223 930L223 1104Q374 1175 487 1276Q600 1377 647 1472L763 1472Z" transform="translate(43.12,204.72) scale(0.01514,-0.01514)"/><text x="60.36" y="204.72" font-size="31">5</text>
<path d="M763 0L583 0L583 1147Q518 1085 412 1023Q306 961 223 930L223 1104Q374 1175 487 1276Q600 1377 647 1472L763 1472Z" transform="translate(43.12,296.48) scale(0.01514,-0.01514)"/><text x="60.36" y="296.48" font-size="31">0</text>
<text x="77.6" y="388.2" text-anchor="end">5</text>
<text x="77.6" y="474.2" text-anchor="end">0</text>
<text x="82.3" y="498.5" text-anchor="middle">850</text>
<text x="272.5" y="498.5" text-anchor="middle">900</text>
<text x="462.6" y="498.5" text-anchor="middle">950</text>
<path d="M763 0L583 0L583 1147Q518 1085 412 1023Q306 961 223 930L223 1104Q374 1175 487 1276Q600 1377 647 1472L763 1472Z" transform="translate(618.32,498.50) scale(0.01514,-0.01514)"/><text x="635.56" y="498.50" font-size="31">000</text>
</g>
<g font-family='"Liberation Sans", sans-serif' font-size="30" fill="#000">
<text x="263.2" y="527.8">wavelength (nm)</text>
<text transform="translate(30,403.9) rotate(-90)">PL Intensity (kcounts/min)</text>
<text x="118.2" y="47.2" font-size="31">V</text>
<text x="216.8" y="393" font-size="31.5" textLength="123.8" lengthAdjust="spacingAndGlyphs">T=4.8 K</text>
<text x="182.3" y="54.5" font-size="31" textLength="44.7" lengthAdjust="spacingAndGlyphs">(a)</text>
</g>
<g stroke="#000" stroke-width="2" fill="none"><path d="M140.5 41.5 L144.5 38.5 V52.3 M140.2 52.3 H148.6"/></g>
<path d="M145.2 25.5 h2.8 l-0.6 10.3 h-1.6z" fill="#000"/>
<!-- panel b -->
<line x1="128.6" y1="939.3" x2="569.4" y2="576.1" stroke="#000" stroke-width="2.2"/>
<g stroke="#0000d0" stroke-width="2"><line x1="129.2" y1="950" x2="129.2" y2="991"/><line x1="122.69999999999999" y1="950" x2="135.7" y2="950"/><line x1="122.69999999999999" y1="991" x2="135.7" y2="991"/><line x1="205.1" y1="861.9" x2="205.1" y2="878"/><line x1="198.6" y1="861.9" x2="211.6" y2="861.9"/><line x1="198.6" y1="878" x2="211.6" y2="878"/><line x1="252.9" y1="823.6" x2="252.9" y2="847"/><line x1="246.4" y1="823.6" x2="259.4" y2="823.6"/><line x1="246.4" y1="847" x2="259.4" y2="847"/><line x1="287.9" y1="776.2" x2="287.9" y2="796.8"/><line x1="281.4" y1="776.2" x2="294.4" y2="776.2"/><line x1="281.4" y1="796.8" x2="294.4" y2="796.8"/><line x1="363.4" y1="740.5" x2="363.4" y2="747.5"/><line x1="356.9" y1="740.5" x2="369.9" y2="740.5"/><line x1="356.9" y1="747.5" x2="369.9" y2="747.5"/><line x1="410.9" y1="692" x2="410.9" y2="698.6"/><line x1="404.4" y1="692" x2="417.4" y2="692"/><line x1="404.4" y1="698.6" x2="417.4" y2="698.6"/><line x1="445.7" y1="679" x2="445.7" y2="685.2"/><line x1="439.2" y1="679" x2="452.2" y2="679"/><line x1="439.2" y1="685.2" x2="452.2" y2="685.2"/><line x1="521.6" y1="618" x2="521.6" y2="624"/><line x1="515.1" y1="618" x2="528.1" y2="618"/><line x1="515.1" y1="624" x2="528.1" y2="624"/><line x1="569.2" y1="584.6" x2="569.2" y2="590.6"/><line x1="562.7" y1="584.6" x2="575.7" y2="584.6"/><line x1="562.7" y1="590.6" x2="575.7" y2="590.6"/></g>
<g fill="#0000d0"><circle cx="129.2" cy="967" r="6.4"/><circle cx="205.1" cy="870.1" r="6.4"/><circle cx="252.9" cy="834.6" r="6.4"/><circle cx="287.9" cy="786.3" r="6.4"/><circle cx="363.4" cy="744" r="6.4"/><circle cx="410.9" cy="695.3" r="6.4"/><circle cx="445.7" cy="682.1" r="6.4"/><circle cx="521.6" cy="621" r="6.4"/><circle cx="569.2" cy="587.6" r="6.4"/></g>
<g stroke="#000" stroke-width="2.4" fill="none"><line x1="94.74" y1="1009.6" x2="94.74" y2="1002.6"/><line x1="94.74" y1="550.3" x2="94.74" y2="557.3"/><line x1="105.35" y1="1009.6" x2="105.35" y2="1002.6"/><line x1="105.35" y1="550.3" x2="105.35" y2="557.3"/><line x1="114.54" y1="1009.6" x2="114.54" y2="1002.6"/><line x1="114.54" y1="550.3" x2="114.54" y2="557.3"/><line x1="122.65" y1="1009.6" x2="122.65" y2="1002.6"/><line x1="122.65" y1="550.3" x2="122.65" y2="557.3"/><line x1="129.90" y1="1009.6" x2="129.90" y2="996.6"/><line x1="129.90" y1="550.3" x2="129.90" y2="563.3"/><line x1="177.61" y1="1009.6" x2="177.61" y2="1002.6"/><line x1="177.61" y1="550.3" x2="177.61" y2="557.3"/><line x1="205.52" y1="1009.6" x2="205.52" y2="1002.6"/><line x1="205.52" y1="550.3" x2="205.52" y2="557.3"/><line x1="225.33" y1="1009.6" x2="225.33" y2="1002.6"/><line x1="225.33" y1="550.3" x2="225.33" y2="557.3"/><line x1="240.69" y1="1009.6" x2="240.69" y2="1002.6"/><line x1="240.69" y1="550.3" x2="240.69" y2="557.3"/><line x1="253.24" y1="1009.6" x2="253.24" y2="1002.6"/><line x1="253.24" y1="550.3" x2="253.24" y2="557.3"/><line x1="263.85" y1="1009.6" x2="263.85" y2="1002.6"/><line x1="263.85" y1="550.3" x2="263.85" y2="557.3"/><line x1="273.04" y1="1009.6" x2="273.04" y2="1002.6"/><line x1="273.04" y1="550.3" x2="273.04" y2="557.3"/><line x1="281.15" y1="1009.6" x2="281.15" y2="1002.6"/><line x1="281.15" y1="550.3" x2="281.15" y2="557.3"/><line x1="288.40" y1="1009.6" x2="288.40" y2="996.6"/><line x1="288.40" y1="550.3" x2="288.40" y2="563.3"/><line x1="336.11" y1="1009.6" x2="336.11" y2="1002.6"/><line x1="336.11" y1="550.3" x2="336.11" y2="557.3"/><line x1="364.02" y1="1009.6" x2="364.02" y2="1002.6"/><line x1="364.02" y1="550.3" x2="364.02" y2="557.3"/><line x1="383.83" y1="1009.6" x2="383.83" y2="1002.6"/><line x1="383.83" y1="550.3" x2="383.83" y2="557.3"/><line x1="399.19" y1="1009.6" x2="399.19" y2="1002.6"/><line x1="399.19" y1="550.3" x2="399.19" y2="557.3"/><line x1="411.74" y1="1009.6" x2="411.74" y2="1002.6"/><line x1="411.74" y1="550.3" x2="411.74" y2="557.3"/><line x1="422.35" y1="1009.6" x2="422.35" y2="1002.6"/><line x1="422.35" y1="550.3" x2="422.35" y2="557.3"/><line x1="431.54" y1="1009.6" x2="431.54" y2="1002.6"/><line x1="431.54" y1="550.3" x2="431.54" y2="557.3"/><line x1="439.65" y1="1009.6" x2="439.65" y2="1002.6"/><line x1="439.65" y1="550.3" x2="439.65" y2="557.3"/><line x1="446.90" y1="1009.6" x2="446.90" y2="996.6"/><line x1="446.90" y1="550.3" x2="446.90" y2="563.3"/><line x1="494.61" y1="1009.6" x2="494.61" y2="1002.6"/><line x1="494.61" y1="550.3" x2="494.61" y2="557.3"/><line x1="522.52" y1="1009.6" x2="522.52" y2="1002.6"/><line x1="522.52" y1="550.3" x2="522.52" y2="557.3"/><line x1="542.33" y1="1009.6" x2="542.33" y2="1002.6"/><line x1="542.33" y1="550.3" x2="542.33" y2="557.3"/><line x1="557.69" y1="1009.6" x2="557.69" y2="1002.6"/><line x1="557.69" y1="550.3" x2="557.69" y2="557.3"/><line x1="570.24" y1="1009.6" x2="570.24" y2="1002.6"/><line x1="570.24" y1="550.3" x2="570.24" y2="557.3"/><line x1="580.85" y1="1009.6" x2="580.85" y2="1002.6"/><line x1="580.85" y1="550.3" x2="580.85" y2="557.3"/><line x1="590.04" y1="1009.6" x2="590.04" y2="1002.6"/><line x1="590.04" y1="550.3" x2="590.04" y2="557.3"/><line x1="598.15" y1="1009.6" x2="598.15" y2="1002.6"/><line x1="598.15" y1="550.3" x2="598.15" y2="557.3"/><line x1="605.40" y1="1009.6" x2="605.40" y2="996.6"/><line x1="605.40" y1="550.3" x2="605.40" y2="563.3"/><line x1="82.0" y1="970.11" x2="89.0" y2="970.11"/><line x1="652.9" y1="970.11" x2="645.9" y2="970.11"/><line x1="82.0" y1="946.94" x2="89.0" y2="946.94"/><line x1="652.9" y1="946.94" x2="645.9" y2="946.94"/><line x1="82.0" y1="930.51" x2="89.0" y2="930.51"/><line x1="652.9" y1="930.51" x2="645.9" y2="930.51"/><line x1="82.0" y1="917.76" x2="89.0" y2="917.76"/><line x1="652.9" y1="917.76" x2="645.9" y2="917.76"/><line x1="82.0" y1="907.35" x2="89.0" y2="907.35"/><line x1="652.9" y1="907.35" x2="645.9" y2="907.35"/><line x1="82.0" y1="898.54" x2="89.0" y2="898.54"/><line x1="652.9" y1="898.54" x2="645.9" y2="898.54"/><line x1="82.0" y1="890.92" x2="89.0" y2="890.92"/><line x1="652.9" y1="890.92" x2="645.9" y2="890.92"/><line x1="82.0" y1="884.19" x2="89.0" y2="884.19"/><line x1="652.9" y1="884.19" x2="645.9" y2="884.19"/><line x1="82.0" y1="878.17" x2="95.0" y2="878.17"/><line x1="652.9" y1="878.17" x2="639.9" y2="878.17"/><line x1="82.0" y1="838.58" x2="89.0" y2="838.58"/><line x1="652.9" y1="838.58" x2="645.9" y2="838.58"/><line x1="82.0" y1="815.41" x2="89.0" y2="815.41"/><line x1="652.9" y1="815.41" x2="645.9" y2="815.41"/><line x1="82.0" y1="798.98" x2="89.0" y2="798.98"/><line x1="652.9" y1="798.98" x2="645.9" y2="798.98"/><line x1="82.0" y1="786.23" x2="89.0" y2="786.23"/><line x1="652.9" y1="786.23" x2="645.9" y2="786.23"/><line x1="82.0" y1="775.82" x2="89.0" y2="775.82"/><line x1="652.9" y1="775.82" x2="645.9" y2="775.82"/><line x1="82.0" y1="767.01" x2="89.0" y2="767.01"/><line x1="652.9" y1="767.01" x2="645.9" y2="767.01"/><line x1="82.0" y1="759.39" x2="89.0" y2="759.39"/><line x1="652.9" y1="759.39" x2="645.9" y2="759.39"/><line x1="82.0" y1="752.66" x2="89.0" y2="752.66"/><line x1="652.9" y1="752.66" x2="645.9" y2="752.66"/><line x1="82.0" y1="746.64" x2="95.0" y2="746.64"/><line x1="652.9" y1="746.64" x2="639.9" y2="746.64"/><line x1="82.0" y1="707.05" x2="89.0" y2="707.05"/><line x1="652.9" y1="707.05" x2="645.9" y2="707.05"/><line x1="82.0" y1="683.88" x2="89.0" y2="683.88"/><line x1="652.9" y1="683.88" x2="645.9" y2="683.88"/><line x1="82.0" y1="667.45" x2="89.0" y2="667.45"/><line x1="652.9" y1="667.45" x2="645.9" y2="667.45"/><line x1="82.0" y1="654.70" x2="89.0" y2="654.70"/><line x1="652.9" y1="654.70" x2="645.9" y2="654.70"/><line x1="82.0" y1="644.29" x2="89.0" y2="644.29"/><line x1="652.9" y1="644.29" x2="645.9" y2="644.29"/><line x1="82.0" y1="635.48" x2="89.0" y2="635.48"/><line x1="652.9" y1="635.48" x2="645.9" y2="635.48"/><line x1="82.0" y1="627.86" x2="89.0" y2="627.86"/><line x1="652.9" y1="627.86" x2="645.9" y2="627.86"/><line x1="82.0" y1="621.13" x2="89.0" y2="621.13"/><line x1="652.9" y1="621.13" x2="645.9" y2="621.13"/><line x1="82.0" y1="615.11" x2="95.0" y2="615.11"/><line x1="652.9" y1="615.11" x2="639.9" y2="615.11"/><line x1="82.0" y1="575.52" x2="89.0" y2="575.52"/><line x1="652.9" y1="575.52" x2="645.9" y2="575.52"/><line x1="82.0" y1="552.35" x2="89.0" y2="552.35"/><line x1="652.9" y1="552.35" x2="645.9" y2="552.35"/><rect x="82.0" y="550.3" width="570.90" height="459.30" fill="none"/></g>
<g stroke="#000" stroke-width="2.2"><line x1="440.1" y1="777.7" x2="402" y2="733"/></g>
<path d="M395.1 724.5 L411.5 735 L405 737.4 L403.9 742.6 Z" fill="#000"/>
<g font-family='"Liberation Sans", sans-serif' font-size="31" fill="#000">
<path d="M763 0L583 0L583 1147Q518 1085 412 1023Q306 961 223 930L223 1104Q374 1175 487 1276Q600 1377 647 1472L763 1472Z" transform="translate(31.20,620.80) scale(0.01514,-0.01514)"/><text x="48.44" y="620.80" font-size="31">0</text><text x="64.7" y="606" font-size="21">5</text>
<path d="M763 0L583 0L583 1147Q518 1085 412 1023Q306 961 223 930L223 1104Q374 1175 487 1276Q600 1377 647 1472L763 1472Z" transform="translate(31.20,752.30) scale(0.01514,-0.01514)"/><text x="48.44" y="752.30" font-size="31">0</text><text x="64.7" y="737.5" font-size="21">4</text>
<path d="M763 0L583 0L583 1147Q518 1085 412 1023Q306 961 223 930L223 1104Q374 1175 487 1276Q600 1377 647 1472L763 1472Z" transform="translate(31.20,883.80) scale(0.01514,-0.01514)"/><text x="48.44" y="883.80" font-size="31">0</text><text x="64.7" y="869" font-size="21">3</text>
<path d="M763 0L583 0L583 1147Q518 1085 412 1023Q306 961 223 930L223 1104Q374 1175 487 1276Q600 1377 647 1472L763 1472Z" transform="translate(31.20,1015.30) scale(0.01514,-0.01514)"/><text x="48.44" y="1015.30" font-size="31">0</text><text x="64.7" y="1000.5" font-size="21">2</text>
<path d="M763 0L583 0L583 1147Q518 1085 412 1023Q306 961 223 930L223 1104Q374 1175 487 1276Q600 1377 647 1472L763 1472Z" transform="translate(106.20,1044.80) scale(0.01514,-0.01514)"/><text x="123.44" y="1044.80" font-size="31">0</text><path d="M763 0L583 0L583 1147Q518 1085 412 1023Q306 961 223 930L223 1104Q374 1175 487 1276Q600 1377 647 1472L763 1472Z" transform="translate(140.10,1030.50) scale(0.01025,-0.01025)"/>
<path d="M763 0L583 0L583 1147Q518 1085 412 1023Q306 961 223 930L223 1104Q374 1175 487 1276Q600 1377 647 1472L763 1472Z" transform="translate(264.70,1044.80) scale(0.01514,-0.01514)"/><text x="281.94" y="1044.80" font-size="31">0</text><text x="298.60" y="1030.50" font-size="21">2</text>
<path d="M763 0L583 0L583 1147Q518 1085 412 1023Q306 961 223 930L223 1104Q374 1175 487 1276Q600 1377 647 1472L763 1472Z" transform="translate(423.20,1044.80) scale(0.01514,-0.01514)"/><text x="440.44" y="1044.80" font-size="31">0</text><text x="457.10" y="1030.50" font-size="21">3</text>
<path d="M763 0L583 0L583 1147Q518 1085 412 1023Q306 961 223 930L223 1104Q374 1175 487 1276Q600 1377 647 1472L763 1472Z" transform="translate(581.70,1044.80) scale(0.01514,-0.01514)"/><text x="598.94" y="1044.80" font-size="31">0</text><text x="615.60" y="1030.50" font-size="21">4</text>
<text x="215" y="1084.5" font-size="36">Dose, d (ions/spot)</text>
<text transform="translate(22,971.5) rotate(-90)" font-size="30">ZPL counts/min per spot, C</text>
<text x="181.8" y="595" font-size="31" textLength="46.4" lengthAdjust="spacingAndGlyphs">(b)</text>
<text x="415.8" y="808.4" font-size="31.5" textLength="83.3" lengthAdjust="spacingAndGlyphs">C=kd</text><text x="497.8" y="797.8" font-size="21">α</text>
<text x="404.6" y="892" font-size="31.5" textLength="110.5" lengthAdjust="spacingAndGlyphs">α=0.99</text>
</g>
</svg>
</body></html>
